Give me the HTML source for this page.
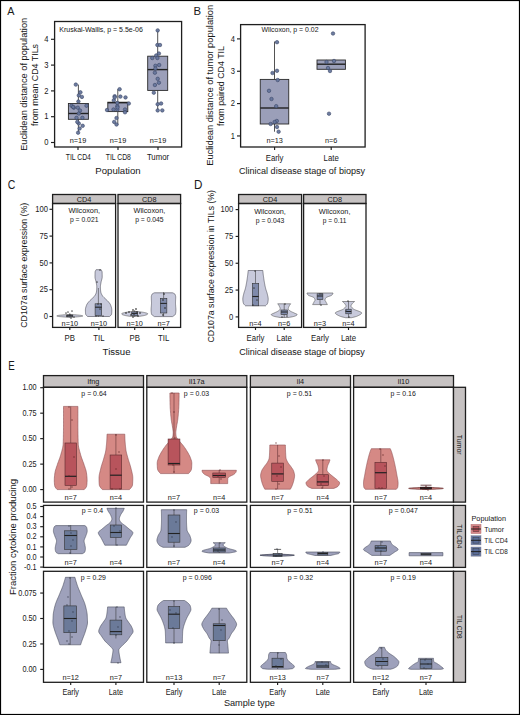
<!DOCTYPE html><html><head><meta charset="utf-8"><style>html,body{margin:0;padding:0;background:#fff;width:520px;height:715px;overflow:hidden}svg{display:block}</style></head><body><svg width="520" height="715" viewBox="0 0 520 715" font-family='"Liberation Sans", sans-serif'>
<rect x="0" y="0" width="520" height="715" fill="#fff"/>
<text x="10.8" y="15.0" font-size="11.8" text-anchor="middle" fill="#1a1a1a" stroke="#1a1a1a" stroke-width="0.03" textLength="7.2" lengthAdjust="spacingAndGlyphs">A</text>
<text x="197.2" y="15.0" font-size="11.8" text-anchor="middle" fill="#1a1a1a" stroke="#1a1a1a" stroke-width="0.03" textLength="7.6" lengthAdjust="spacingAndGlyphs">B</text>
<text x="11.5" y="188.9" font-size="12.6" text-anchor="middle" fill="#1a1a1a" stroke="#1a1a1a" stroke-width="0.03" textLength="7.6" lengthAdjust="spacingAndGlyphs">C</text>
<text x="198.2" y="188.9" font-size="12.4" text-anchor="middle" fill="#1a1a1a" stroke="#1a1a1a" stroke-width="0.03" textLength="8.4" lengthAdjust="spacingAndGlyphs">D</text>
<text x="11.5" y="369.9" font-size="12.4" text-anchor="middle" fill="#1a1a1a" stroke="#1a1a1a" stroke-width="0.03" textLength="6.5" lengthAdjust="spacingAndGlyphs">E</text>
<line x1="51" y1="142.5" x2="54.2" y2="142.5" stroke="#1e1e1e" stroke-width="1.15"/>
<text x="48.5" y="145.2" font-size="8.74" text-anchor="end" fill="#1a1a1a" stroke="#1a1a1a" stroke-width="0.03" textLength="4.23" lengthAdjust="spacingAndGlyphs">0</text>
<line x1="51" y1="116.7" x2="54.2" y2="116.7" stroke="#1e1e1e" stroke-width="1.15"/>
<text x="48.5" y="119.4" font-size="8.74" text-anchor="end" fill="#1a1a1a" stroke="#1a1a1a" stroke-width="0.03" textLength="4.23" lengthAdjust="spacingAndGlyphs">1</text>
<line x1="51" y1="90.9" x2="54.2" y2="90.9" stroke="#1e1e1e" stroke-width="1.15"/>
<text x="48.5" y="93.60000000000001" font-size="8.74" text-anchor="end" fill="#1a1a1a" stroke="#1a1a1a" stroke-width="0.03" textLength="4.23" lengthAdjust="spacingAndGlyphs">2</text>
<line x1="51" y1="65.1" x2="54.2" y2="65.1" stroke="#1e1e1e" stroke-width="1.15"/>
<text x="48.5" y="67.8" font-size="8.74" text-anchor="end" fill="#1a1a1a" stroke="#1a1a1a" stroke-width="0.03" textLength="4.23" lengthAdjust="spacingAndGlyphs">3</text>
<line x1="51" y1="39.3" x2="54.2" y2="39.3" stroke="#1e1e1e" stroke-width="1.15"/>
<text x="48.5" y="42.0" font-size="8.74" text-anchor="end" fill="#1a1a1a" stroke="#1a1a1a" stroke-width="0.03" textLength="4.23" lengthAdjust="spacingAndGlyphs">4</text>
<line x1="78.4" y1="84.6" x2="78.4" y2="103.5" stroke="#2a2a2a" stroke-width="0.81"/>
<line x1="78.4" y1="119.3" x2="78.4" y2="132.7" stroke="#2a2a2a" stroke-width="0.81"/>
<rect x="68.4" y="103.5" width="20" height="15.799999999999997" fill="#9b9fb9" stroke="#2a2a2a" stroke-width="0.9"/>
<line x1="68.4" y1="113.5" x2="88.4" y2="113.5" stroke="#222" stroke-width="1.4"/>
<line x1="117.8" y1="89.2" x2="117.8" y2="102.2" stroke="#2a2a2a" stroke-width="0.81"/>
<line x1="117.8" y1="111.6" x2="117.8" y2="125" stroke="#2a2a2a" stroke-width="0.81"/>
<rect x="107.8" y="102.2" width="20" height="9.399999999999991" fill="#9b9fb9" stroke="#2a2a2a" stroke-width="0.9"/>
<line x1="107.8" y1="102.7" x2="127.8" y2="102.7" stroke="#222" stroke-width="1.4"/>
<line x1="157.7" y1="30.4" x2="157.7" y2="56.2" stroke="#2a2a2a" stroke-width="0.81"/>
<line x1="157.7" y1="90.4" x2="157.7" y2="110.4" stroke="#2a2a2a" stroke-width="0.81"/>
<rect x="147.7" y="56.2" width="20" height="34.2" fill="#9b9fb9" stroke="#2a2a2a" stroke-width="0.9"/>
<line x1="147.7" y1="69.6" x2="167.7" y2="69.6" stroke="#222" stroke-width="1.4"/>
<circle cx="75.8" cy="84.6" r="1.75" fill="#66769c" fill-opacity="0.95" stroke="#3a4767" stroke-width="0.6"/>
<circle cx="80.4" cy="92.3" r="1.75" fill="#66769c" fill-opacity="0.95" stroke="#3a4767" stroke-width="0.6"/>
<circle cx="78.8" cy="95.4" r="1.75" fill="#66769c" fill-opacity="0.95" stroke="#3a4767" stroke-width="0.6"/>
<circle cx="81.9" cy="96.9" r="1.75" fill="#66769c" fill-opacity="0.95" stroke="#3a4767" stroke-width="0.6"/>
<circle cx="78.4" cy="101.5" r="1.75" fill="#66769c" fill-opacity="0.95" stroke="#3a4767" stroke-width="0.6"/>
<circle cx="71.6" cy="105.8" r="1.75" fill="#66769c" fill-opacity="0.95" stroke="#3a4767" stroke-width="0.6"/>
<circle cx="73.8" cy="107.7" r="1.75" fill="#66769c" fill-opacity="0.95" stroke="#3a4767" stroke-width="0.6"/>
<circle cx="77.8" cy="107.7" r="1.75" fill="#66769c" fill-opacity="0.95" stroke="#3a4767" stroke-width="0.6"/>
<circle cx="86.5" cy="105.7" r="1.75" fill="#66769c" fill-opacity="0.95" stroke="#3a4767" stroke-width="0.6"/>
<circle cx="78.8" cy="113.5" r="1.75" fill="#66769c" fill-opacity="0.95" stroke="#3a4767" stroke-width="0.6"/>
<circle cx="76.5" cy="117.8" r="1.75" fill="#66769c" fill-opacity="0.95" stroke="#3a4767" stroke-width="0.6"/>
<circle cx="82.4" cy="117.8" r="1.75" fill="#66769c" fill-opacity="0.95" stroke="#3a4767" stroke-width="0.6"/>
<circle cx="78.8" cy="123.5" r="1.75" fill="#66769c" fill-opacity="0.95" stroke="#3a4767" stroke-width="0.6"/>
<circle cx="82.7" cy="125.8" r="1.75" fill="#66769c" fill-opacity="0.95" stroke="#3a4767" stroke-width="0.6"/>
<circle cx="79.6" cy="128.5" r="1.75" fill="#66769c" fill-opacity="0.95" stroke="#3a4767" stroke-width="0.6"/>
<circle cx="78.1" cy="132.7" r="1.75" fill="#66769c" fill-opacity="0.95" stroke="#3a4767" stroke-width="0.6"/>
<circle cx="77.3" cy="121.9" r="1.75" fill="#66769c" fill-opacity="0.95" stroke="#3a4767" stroke-width="0.6"/>
<circle cx="73.2" cy="107" r="1.75" fill="#66769c" fill-opacity="0.95" stroke="#3a4767" stroke-width="0.6"/>
<circle cx="80" cy="110.5" r="1.75" fill="#66769c" fill-opacity="0.95" stroke="#3a4767" stroke-width="0.6"/>
<circle cx="119.6" cy="89.2" r="1.75" fill="#66769c" fill-opacity="0.95" stroke="#3a4767" stroke-width="0.6"/>
<circle cx="114.7" cy="96.2" r="1.75" fill="#66769c" fill-opacity="0.95" stroke="#3a4767" stroke-width="0.6"/>
<circle cx="120.4" cy="96.6" r="1.75" fill="#66769c" fill-opacity="0.95" stroke="#3a4767" stroke-width="0.6"/>
<circle cx="125.5" cy="97.4" r="1.75" fill="#66769c" fill-opacity="0.95" stroke="#3a4767" stroke-width="0.6"/>
<circle cx="113.8" cy="100.3" r="1.75" fill="#66769c" fill-opacity="0.95" stroke="#3a4767" stroke-width="0.6"/>
<circle cx="117.3" cy="103" r="1.75" fill="#66769c" fill-opacity="0.95" stroke="#3a4767" stroke-width="0.6"/>
<circle cx="128.8" cy="103.5" r="1.75" fill="#66769c" fill-opacity="0.95" stroke="#3a4767" stroke-width="0.6"/>
<circle cx="107" cy="110" r="1.75" fill="#66769c" fill-opacity="0.95" stroke="#3a4767" stroke-width="0.6"/>
<circle cx="113.5" cy="109.5" r="1.75" fill="#66769c" fill-opacity="0.95" stroke="#3a4767" stroke-width="0.6"/>
<circle cx="117.3" cy="109.5" r="1.75" fill="#66769c" fill-opacity="0.95" stroke="#3a4767" stroke-width="0.6"/>
<circle cx="125" cy="109.5" r="1.75" fill="#66769c" fill-opacity="0.95" stroke="#3a4767" stroke-width="0.6"/>
<circle cx="125" cy="112.3" r="1.75" fill="#66769c" fill-opacity="0.95" stroke="#3a4767" stroke-width="0.6"/>
<circle cx="117.3" cy="106.2" r="1.75" fill="#66769c" fill-opacity="0.95" stroke="#3a4767" stroke-width="0.6"/>
<circle cx="116.5" cy="118" r="1.75" fill="#66769c" fill-opacity="0.95" stroke="#3a4767" stroke-width="0.6"/>
<circle cx="114.2" cy="121.9" r="1.75" fill="#66769c" fill-opacity="0.95" stroke="#3a4767" stroke-width="0.6"/>
<circle cx="116.5" cy="124.5" r="1.75" fill="#66769c" fill-opacity="0.95" stroke="#3a4767" stroke-width="0.6"/>
<circle cx="117.5" cy="107.5" r="1.75" fill="#66769c" fill-opacity="0.95" stroke="#3a4767" stroke-width="0.6"/>
<circle cx="114.7" cy="97.3" r="1.75" fill="#66769c" fill-opacity="0.95" stroke="#3a4767" stroke-width="0.6"/>
<circle cx="157.7" cy="30.4" r="1.75" fill="#66769c" fill-opacity="0.95" stroke="#3a4767" stroke-width="0.6"/>
<circle cx="157.4" cy="45" r="1.75" fill="#66769c" fill-opacity="0.95" stroke="#3a4767" stroke-width="0.6"/>
<circle cx="160" cy="45" r="1.75" fill="#66769c" fill-opacity="0.95" stroke="#3a4767" stroke-width="0.6"/>
<circle cx="158.9" cy="53.5" r="1.75" fill="#66769c" fill-opacity="0.95" stroke="#3a4767" stroke-width="0.6"/>
<circle cx="156.2" cy="55.5" r="1.75" fill="#66769c" fill-opacity="0.95" stroke="#3a4767" stroke-width="0.6"/>
<circle cx="152.3" cy="58" r="1.75" fill="#66769c" fill-opacity="0.95" stroke="#3a4767" stroke-width="0.6"/>
<circle cx="157.4" cy="58" r="1.75" fill="#66769c" fill-opacity="0.95" stroke="#3a4767" stroke-width="0.6"/>
<circle cx="155.4" cy="65.8" r="1.75" fill="#66769c" fill-opacity="0.95" stroke="#3a4767" stroke-width="0.6"/>
<circle cx="159.2" cy="65" r="1.75" fill="#66769c" fill-opacity="0.95" stroke="#3a4767" stroke-width="0.6"/>
<circle cx="154.9" cy="72.7" r="1.75" fill="#66769c" fill-opacity="0.95" stroke="#3a4767" stroke-width="0.6"/>
<circle cx="157.7" cy="78.8" r="1.75" fill="#66769c" fill-opacity="0.95" stroke="#3a4767" stroke-width="0.6"/>
<circle cx="158.9" cy="82.7" r="1.75" fill="#66769c" fill-opacity="0.95" stroke="#3a4767" stroke-width="0.6"/>
<circle cx="154.9" cy="85" r="1.75" fill="#66769c" fill-opacity="0.95" stroke="#3a4767" stroke-width="0.6"/>
<circle cx="153.8" cy="92.7" r="1.75" fill="#66769c" fill-opacity="0.95" stroke="#3a4767" stroke-width="0.6"/>
<circle cx="157.7" cy="104.2" r="1.75" fill="#66769c" fill-opacity="0.95" stroke="#3a4767" stroke-width="0.6"/>
<circle cx="161.1" cy="103.5" r="1.75" fill="#66769c" fill-opacity="0.95" stroke="#3a4767" stroke-width="0.6"/>
<circle cx="157.7" cy="110.4" r="1.75" fill="#66769c" fill-opacity="0.95" stroke="#3a4767" stroke-width="0.6"/>
<circle cx="162.3" cy="110.4" r="1.75" fill="#66769c" fill-opacity="0.95" stroke="#3a4767" stroke-width="0.6"/>
<circle cx="155.4" cy="68.5" r="1.75" fill="#66769c" fill-opacity="0.95" stroke="#3a4767" stroke-width="0.6"/>
<rect x="54.6" y="21.5" width="127" height="125.5" fill="none" stroke="#1e1e1e" stroke-width="1.3"/>
<line x1="78" y1="147.1" x2="78" y2="150" stroke="#1e1e1e" stroke-width="1.15"/>
<text x="78" y="142.6" font-size="8.03" text-anchor="middle" fill="#1a1a1a" stroke="#1a1a1a" stroke-width="0.03" textLength="16.44" lengthAdjust="spacingAndGlyphs">n=19</text>
<line x1="118" y1="147.1" x2="118" y2="150" stroke="#1e1e1e" stroke-width="1.15"/>
<text x="118" y="142.6" font-size="8.03" text-anchor="middle" fill="#1a1a1a" stroke="#1a1a1a" stroke-width="0.03" textLength="16.44" lengthAdjust="spacingAndGlyphs">n=19</text>
<line x1="158" y1="147.1" x2="158" y2="150" stroke="#1e1e1e" stroke-width="1.15"/>
<text x="158" y="142.6" font-size="8.03" text-anchor="middle" fill="#1a1a1a" stroke="#1a1a1a" stroke-width="0.03" textLength="16.44" lengthAdjust="spacingAndGlyphs">n=19</text>
<text x="78.3" y="159.9" font-size="8.97" text-anchor="middle" fill="#1a1a1a" stroke="#1a1a1a" stroke-width="0.03" textLength="25" lengthAdjust="spacingAndGlyphs">TIL CD4</text>
<text x="118.3" y="159.9" font-size="8.97" text-anchor="middle" fill="#1a1a1a" stroke="#1a1a1a" stroke-width="0.03" textLength="25" lengthAdjust="spacingAndGlyphs">TIL CD8</text>
<text x="158" y="159.9" font-size="8.97" text-anchor="middle" fill="#1a1a1a" stroke="#1a1a1a" stroke-width="0.03" textLength="22.25" lengthAdjust="spacingAndGlyphs">Tumor</text>
<text x="118" y="173.8" font-size="9.6" text-anchor="middle" fill="#1a1a1a" stroke="#1a1a1a" stroke-width="0.03" textLength="45.37" lengthAdjust="spacingAndGlyphs">Population</text>
<text x="59.3" y="32.1" font-size="7.45" text-anchor="start" fill="#1a1a1a" stroke="#1a1a1a" stroke-width="0.03" textLength="83.5" lengthAdjust="spacingAndGlyphs">Kruskal-Wallis, p = 5.5e-06</text>
<text x="27.2" y="84.3" font-size="9.6" text-anchor="middle" fill="#1a1a1a" stroke="#1a1a1a" stroke-width="0.03" textLength="133" lengthAdjust="spacingAndGlyphs" transform="rotate(-90 27.2 84.3)">Euclidean distance of population</text>
<text x="37.9" y="85" font-size="9.6" text-anchor="middle" fill="#1a1a1a" stroke="#1a1a1a" stroke-width="0.03" textLength="82" lengthAdjust="spacingAndGlyphs" transform="rotate(-90 37.9 85)">from mean CD4 TILs</text>
<line x1="237" y1="135.95000000000002" x2="240.2" y2="135.95000000000002" stroke="#1e1e1e" stroke-width="1.15"/>
<text x="235" y="138.65" font-size="8.74" text-anchor="end" fill="#1a1a1a" stroke="#1a1a1a" stroke-width="0.03" textLength="4.23" lengthAdjust="spacingAndGlyphs">1</text>
<line x1="237" y1="103.60000000000001" x2="240.2" y2="103.60000000000001" stroke="#1e1e1e" stroke-width="1.15"/>
<text x="235" y="106.30000000000001" font-size="8.74" text-anchor="end" fill="#1a1a1a" stroke="#1a1a1a" stroke-width="0.03" textLength="4.23" lengthAdjust="spacingAndGlyphs">2</text>
<line x1="237" y1="71.25" x2="240.2" y2="71.25" stroke="#1e1e1e" stroke-width="1.15"/>
<text x="235" y="73.95" font-size="8.74" text-anchor="end" fill="#1a1a1a" stroke="#1a1a1a" stroke-width="0.03" textLength="4.23" lengthAdjust="spacingAndGlyphs">3</text>
<line x1="237" y1="38.900000000000006" x2="240.2" y2="38.900000000000006" stroke="#1e1e1e" stroke-width="1.15"/>
<text x="235" y="41.60000000000001" font-size="8.74" text-anchor="end" fill="#1a1a1a" stroke="#1a1a1a" stroke-width="0.03" textLength="4.23" lengthAdjust="spacingAndGlyphs">4</text>
<line x1="274.5" y1="41.5" x2="274.5" y2="79.4" stroke="#2a2a2a" stroke-width="0.81"/>
<line x1="274.5" y1="124" x2="274.5" y2="131.7" stroke="#2a2a2a" stroke-width="0.81"/>
<rect x="260.25" y="79.4" width="28.5" height="44.599999999999994" fill="#9b9fb9" stroke="#2a2a2a" stroke-width="0.9"/>
<line x1="260.25" y1="108" x2="288.75" y2="108" stroke="#222" stroke-width="1.4"/>
<rect x="317.0" y="60" width="28.4" height="9.299999999999997" fill="#9b9fb9" stroke="#2a2a2a" stroke-width="0.9"/>
<line x1="317.0" y1="64.2" x2="345.4" y2="64.2" stroke="#222" stroke-width="1.4"/>
<circle cx="277" cy="42.2" r="1.75" fill="#66769c" fill-opacity="0.95" stroke="#3a4767" stroke-width="0.6"/>
<circle cx="272.5" cy="73" r="1.75" fill="#66769c" fill-opacity="0.95" stroke="#3a4767" stroke-width="0.6"/>
<circle cx="277" cy="70.8" r="1.75" fill="#66769c" fill-opacity="0.95" stroke="#3a4767" stroke-width="0.6"/>
<circle cx="277.7" cy="80" r="1.75" fill="#66769c" fill-opacity="0.95" stroke="#3a4767" stroke-width="0.6"/>
<circle cx="269" cy="90.8" r="1.75" fill="#66769c" fill-opacity="0.95" stroke="#3a4767" stroke-width="0.6"/>
<circle cx="271.5" cy="99" r="1.75" fill="#66769c" fill-opacity="0.95" stroke="#3a4767" stroke-width="0.6"/>
<circle cx="276.2" cy="106.2" r="1.75" fill="#66769c" fill-opacity="0.95" stroke="#3a4767" stroke-width="0.6"/>
<circle cx="276.8" cy="121" r="1.75" fill="#66769c" fill-opacity="0.95" stroke="#3a4767" stroke-width="0.6"/>
<circle cx="274.6" cy="122" r="1.75" fill="#66769c" fill-opacity="0.95" stroke="#3a4767" stroke-width="0.6"/>
<circle cx="270.6" cy="124" r="1.75" fill="#66769c" fill-opacity="0.95" stroke="#3a4767" stroke-width="0.6"/>
<circle cx="277" cy="127" r="1.75" fill="#66769c" fill-opacity="0.95" stroke="#3a4767" stroke-width="0.6"/>
<circle cx="278.6" cy="131.7" r="1.75" fill="#66769c" fill-opacity="0.95" stroke="#3a4767" stroke-width="0.6"/>
<circle cx="333" cy="33.5" r="1.75" fill="#66769c" fill-opacity="0.95" stroke="#3a4767" stroke-width="0.6"/>
<circle cx="326.5" cy="62" r="1.75" fill="#66769c" fill-opacity="0.95" stroke="#3a4767" stroke-width="0.6"/>
<circle cx="334" cy="61" r="1.75" fill="#66769c" fill-opacity="0.95" stroke="#3a4767" stroke-width="0.6"/>
<circle cx="328" cy="68" r="1.75" fill="#66769c" fill-opacity="0.95" stroke="#3a4767" stroke-width="0.6"/>
<circle cx="330" cy="71" r="1.75" fill="#66769c" fill-opacity="0.95" stroke="#3a4767" stroke-width="0.6"/>
<circle cx="329" cy="113.7" r="1.75" fill="#66769c" fill-opacity="0.95" stroke="#3a4767" stroke-width="0.6"/>
<rect x="240.6" y="24.6" width="124.5" height="122.4" fill="none" stroke="#1e1e1e" stroke-width="1.3"/>
<line x1="274.6" y1="147" x2="274.6" y2="150" stroke="#1e1e1e" stroke-width="1.15"/>
<text x="274.6" y="143.1" font-size="8.03" text-anchor="middle" fill="#1a1a1a" stroke="#1a1a1a" stroke-width="0.03" textLength="16.44" lengthAdjust="spacingAndGlyphs">n=13</text>
<line x1="331.2" y1="147" x2="331.2" y2="150" stroke="#1e1e1e" stroke-width="1.15"/>
<text x="331.2" y="143.1" font-size="8.03" text-anchor="middle" fill="#1a1a1a" stroke="#1a1a1a" stroke-width="0.03" textLength="12.38" lengthAdjust="spacingAndGlyphs">n=6</text>
<text x="274.6" y="160.5" font-size="8.97" text-anchor="middle" fill="#1a1a1a" stroke="#1a1a1a" stroke-width="0.03" textLength="17.77" lengthAdjust="spacingAndGlyphs">Early</text>
<text x="331.2" y="160.5" font-size="8.97" text-anchor="middle" fill="#1a1a1a" stroke="#1a1a1a" stroke-width="0.03" textLength="15.18" lengthAdjust="spacingAndGlyphs">Late</text>
<text x="302" y="174" font-size="9.6" text-anchor="middle" fill="#1a1a1a" stroke="#1a1a1a" stroke-width="0.03" textLength="126" lengthAdjust="spacingAndGlyphs">Clinical disease stage of biopsy</text>
<text x="290" y="32.3" font-size="7.67" text-anchor="middle" fill="#1a1a1a" stroke="#1a1a1a" stroke-width="0.03" textLength="57" lengthAdjust="spacingAndGlyphs">Wilcoxon, p = 0.02</text>
<text x="213.2" y="85.3" font-size="9.6" text-anchor="middle" fill="#1a1a1a" stroke="#1a1a1a" stroke-width="0.03" textLength="161" lengthAdjust="spacingAndGlyphs" transform="rotate(-90 213.2 85.3)">Euclidean distance of tumor population</text>
<text x="224.2" y="86" font-size="9.6" text-anchor="middle" fill="#1a1a1a" stroke="#1a1a1a" stroke-width="0.03" textLength="80" lengthAdjust="spacingAndGlyphs" transform="rotate(-90 224.2 86)">from paired CD4 TIL</text>
<line x1="49.5" y1="316.5" x2="52.6" y2="316.5" stroke="#1e1e1e" stroke-width="1.15"/>
<text x="47.9" y="319.2" font-size="8.74" text-anchor="end" fill="#1a1a1a" stroke="#1a1a1a" stroke-width="0.03" textLength="4.23" lengthAdjust="spacingAndGlyphs">0</text>
<line x1="49.5" y1="289.7" x2="52.6" y2="289.7" stroke="#1e1e1e" stroke-width="1.15"/>
<text x="47.9" y="292.4" font-size="8.74" text-anchor="end" fill="#1a1a1a" stroke="#1a1a1a" stroke-width="0.03" textLength="8.45" lengthAdjust="spacingAndGlyphs">25</text>
<line x1="49.5" y1="262.9" x2="52.6" y2="262.9" stroke="#1e1e1e" stroke-width="1.15"/>
<text x="47.9" y="265.59999999999997" font-size="8.74" text-anchor="end" fill="#1a1a1a" stroke="#1a1a1a" stroke-width="0.03" textLength="8.45" lengthAdjust="spacingAndGlyphs">50</text>
<line x1="49.5" y1="236.1" x2="52.6" y2="236.1" stroke="#1e1e1e" stroke-width="1.15"/>
<text x="47.9" y="238.79999999999998" font-size="8.74" text-anchor="end" fill="#1a1a1a" stroke="#1a1a1a" stroke-width="0.03" textLength="8.45" lengthAdjust="spacingAndGlyphs">75</text>
<line x1="49.5" y1="209.3" x2="52.6" y2="209.3" stroke="#1e1e1e" stroke-width="1.15"/>
<text x="47.9" y="212.0" font-size="8.74" text-anchor="end" fill="#1a1a1a" stroke="#1a1a1a" stroke-width="0.03" textLength="12.68" lengthAdjust="spacingAndGlyphs">100</text>
<polygon points="72.30,314.60 73.00,314.64 73.68,314.69 74.32,314.73 74.95,314.78 75.54,314.82 76.11,314.86 76.65,314.91 77.17,314.95 77.66,315.00 78.13,315.04 78.57,315.08 78.99,315.13 79.38,315.17 79.76,315.22 80.10,315.26 80.43,315.31 80.73,315.35 81.01,315.39 81.27,315.44 81.51,315.48 81.73,315.53 81.92,315.57 82.10,315.61 82.25,315.66 82.39,315.70 82.50,315.75 82.60,315.79 82.67,315.83 82.73,315.88 82.77,315.92 82.79,315.97 82.80,316.01 82.78,316.05 82.72,316.10 82.63,316.14 82.52,316.19 82.37,316.23 82.19,316.27 81.98,316.32 81.75,316.36 81.48,316.41 81.19,316.45 80.86,316.49 80.52,316.54 80.14,316.58 79.74,316.63 79.31,316.67 78.85,316.72 78.38,316.76 77.87,316.80 77.34,316.85 76.79,316.89 76.22,316.94 75.62,316.98 75.00,317.02 74.36,317.07 73.69,317.11 73.01,317.16 72.30,317.20 67.30,317.20 66.59,317.16 65.91,317.11 65.24,317.07 64.60,317.02 63.98,316.98 63.38,316.94 62.81,316.89 62.26,316.85 61.73,316.80 61.22,316.76 60.75,316.72 60.29,316.67 59.86,316.63 59.46,316.58 59.08,316.54 58.74,316.49 58.41,316.45 58.12,316.41 57.85,316.36 57.62,316.32 57.41,316.27 57.23,316.23 57.08,316.19 56.97,316.14 56.88,316.10 56.82,316.05 56.80,316.01 56.81,315.97 56.83,315.92 56.87,315.88 56.93,315.83 57.00,315.79 57.10,315.75 57.21,315.70 57.35,315.66 57.50,315.61 57.68,315.57 57.87,315.53 58.09,315.48 58.33,315.44 58.59,315.39 58.87,315.35 59.17,315.31 59.50,315.26 59.84,315.22 60.22,315.17 60.61,315.13 61.03,315.08 61.47,315.04 61.94,315.00 62.43,314.95 62.95,314.91 63.49,314.86 64.06,314.82 64.65,314.78 65.28,314.73 65.92,314.69 66.60,314.64 67.30,314.60" fill="#c8cadc" stroke="#555" stroke-width="0.6" stroke-linejoin="round"/>
<polygon points="101.10,269.70 101.56,270.49 101.94,271.29 102.10,272.08 102.13,272.87 102.16,273.67 102.18,274.46 102.19,275.25 102.20,276.05 102.20,276.84 102.16,277.63 102.03,278.43 101.84,279.22 101.61,280.01 101.38,280.81 101.18,281.60 101.03,282.39 100.88,283.18 100.73,283.98 100.60,284.77 100.49,285.56 100.42,286.36 100.40,287.15 100.42,287.94 100.46,288.74 100.52,289.53 100.59,290.32 100.68,291.12 100.79,291.91 100.95,292.70 101.23,293.50 101.60,294.29 102.04,295.08 102.52,295.88 103.12,296.67 103.92,297.46 104.80,298.26 105.65,299.05 106.48,299.84 107.32,300.64 108.10,301.43 108.78,302.22 109.40,303.02 109.97,303.81 110.43,304.60 110.74,305.39 111.02,306.19 111.28,306.98 111.50,307.77 111.67,308.57 111.77,309.36 111.80,310.15 111.79,310.95 111.76,311.74 111.72,312.53 111.66,313.33 111.58,314.12 111.19,314.91 110.46,315.71 109.60,316.50 87.60,316.50 86.74,315.71 86.01,314.91 85.62,314.12 85.54,313.33 85.48,312.53 85.44,311.74 85.41,310.95 85.40,310.15 85.43,309.36 85.53,308.57 85.70,307.77 85.92,306.98 86.18,306.19 86.46,305.39 86.77,304.60 87.23,303.81 87.80,303.02 88.42,302.22 89.10,301.43 89.88,300.64 90.72,299.84 91.55,299.05 92.40,298.26 93.28,297.46 94.08,296.67 94.68,295.88 95.16,295.08 95.60,294.29 95.97,293.50 96.25,292.70 96.41,291.91 96.52,291.12 96.61,290.32 96.68,289.53 96.74,288.74 96.78,287.94 96.80,287.15 96.78,286.36 96.71,285.56 96.60,284.77 96.47,283.98 96.32,283.18 96.17,282.39 96.02,281.60 95.82,280.81 95.59,280.01 95.36,279.22 95.17,278.43 95.04,277.63 95.00,276.84 95.00,276.05 95.01,275.25 95.02,274.46 95.04,273.67 95.07,272.87 95.10,272.08 95.26,271.29 95.64,270.49 96.10,269.70" fill="#c8cadc" stroke="#4a4a55" stroke-width="0.6" stroke-linejoin="round"/>
<line x1="69.8" y1="313" x2="69.8" y2="315" stroke="#333" stroke-width="0.54"/>
<line x1="69.8" y1="316.8" x2="69.8" y2="317.5" stroke="#333" stroke-width="0.54"/>
<rect x="66.8" y="315" width="6" height="1.8000000000000114" fill="#7f8aab" stroke="#333" stroke-width="0.6"/>
<line x1="66.8" y1="315.8" x2="72.8" y2="315.8" stroke="#222" stroke-width="0.9"/>
<line x1="98.4" y1="288" x2="98.4" y2="303.8" stroke="#333" stroke-width="0.54"/>
<line x1="98.4" y1="315.5" x2="98.4" y2="317" stroke="#333" stroke-width="0.54"/>
<rect x="95.10000000000001" y="303.8" width="6.6" height="11.699999999999989" fill="#7f8aab" stroke="#333" stroke-width="0.6"/>
<line x1="95.10000000000001" y1="307.2" x2="101.7" y2="307.2" stroke="#222" stroke-width="1.1"/>
<circle cx="66" cy="313" r="0.85" fill="#333" fill-opacity="0.8"/>
<circle cx="68" cy="312" r="0.85" fill="#333" fill-opacity="0.8"/>
<circle cx="72" cy="311" r="0.85" fill="#333" fill-opacity="0.8"/>
<circle cx="70" cy="315" r="0.85" fill="#333" fill-opacity="0.8"/>
<circle cx="74" cy="317" r="0.85" fill="#333" fill-opacity="0.8"/>
<circle cx="71" cy="318" r="0.85" fill="#333" fill-opacity="0.8"/>
<circle cx="67" cy="316" r="0.85" fill="#333" fill-opacity="0.8"/>
<circle cx="97" cy="282" r="0.85" fill="#333" fill-opacity="0.8"/>
<circle cx="100" cy="270" r="0.85" fill="#333" fill-opacity="0.8"/>
<circle cx="96" cy="316" r="0.85" fill="#333" fill-opacity="0.8"/>
<circle cx="103" cy="316" r="0.85" fill="#333" fill-opacity="0.8"/>
<circle cx="98" cy="304" r="0.85" fill="#333" fill-opacity="0.8"/>
<circle cx="101" cy="304" r="0.85" fill="#333" fill-opacity="0.8"/>
<circle cx="100" cy="309" r="0.85" fill="#333" fill-opacity="0.8"/>
<polygon points="137.70,311.50 138.34,311.58 138.96,311.66 139.57,311.74 140.15,311.83 140.72,311.91 141.27,311.99 141.80,312.07 142.31,312.15 142.80,312.23 143.27,312.31 143.72,312.39 144.15,312.48 144.56,312.56 144.94,312.64 145.30,312.72 145.64,312.80 145.95,312.88 146.24,312.96 146.50,313.05 146.74,313.13 146.96,313.21 147.14,313.29 147.30,313.37 147.44,313.45 147.55,313.53 147.63,313.62 147.68,313.70 147.70,313.78 147.70,313.86 147.68,313.94 147.65,314.02 147.61,314.10 147.55,314.18 147.47,314.27 147.38,314.35 147.28,314.43 147.16,314.51 147.02,314.59 146.87,314.67 146.70,314.75 146.51,314.84 146.30,314.92 146.08,315.00 145.84,315.08 145.58,315.16 145.29,315.24 144.99,315.32 144.67,315.41 144.33,315.49 143.97,315.57 143.58,315.65 143.18,315.73 142.75,315.81 142.30,315.89 141.83,315.97 141.33,316.06 140.81,316.14 140.27,316.22 139.70,316.30 129.70,316.30 129.13,316.22 128.59,316.14 128.07,316.06 127.57,315.97 127.10,315.89 126.65,315.81 126.22,315.73 125.82,315.65 125.43,315.57 125.07,315.49 124.73,315.41 124.41,315.32 124.11,315.24 123.82,315.16 123.56,315.08 123.32,315.00 123.10,314.92 122.89,314.84 122.70,314.75 122.53,314.67 122.38,314.59 122.24,314.51 122.12,314.43 122.02,314.35 121.93,314.27 121.85,314.18 121.79,314.10 121.75,314.02 121.72,313.94 121.70,313.86 121.70,313.78 121.72,313.70 121.77,313.62 121.85,313.53 121.96,313.45 122.10,313.37 122.26,313.29 122.44,313.21 122.66,313.13 122.90,313.05 123.16,312.96 123.45,312.88 123.76,312.80 124.10,312.72 124.46,312.64 124.84,312.56 125.25,312.48 125.68,312.39 126.13,312.31 126.60,312.23 127.09,312.15 127.60,312.07 128.13,311.99 128.68,311.91 129.25,311.83 129.83,311.74 130.44,311.66 131.06,311.58 131.70,311.50" fill="#c8cadc" stroke="#555" stroke-width="0.6" stroke-linejoin="round"/>
<polygon points="172.50,292.80 173.48,293.20 174.32,293.61 174.81,294.01 175.02,294.41 175.21,294.82 175.37,295.22 175.50,295.62 175.60,296.03 175.67,296.43 175.70,296.83 175.70,297.24 175.69,297.64 175.68,298.04 175.67,298.45 175.65,298.85 175.64,299.25 175.62,299.66 175.60,300.06 175.58,300.46 175.56,300.87 175.54,301.27 175.52,301.67 175.51,302.08 175.50,302.48 175.50,302.88 175.50,303.29 175.51,303.69 175.53,304.09 175.55,304.50 175.57,304.90 175.60,305.31 175.63,305.71 175.67,306.11 175.70,306.52 175.74,306.92 175.77,307.32 175.80,307.73 175.83,308.13 175.85,308.53 175.88,308.94 175.89,309.34 175.90,309.74 175.90,310.15 175.89,310.55 175.88,310.95 175.85,311.36 175.82,311.76 175.78,312.16 175.73,312.57 175.68,312.97 175.61,313.37 175.54,313.78 175.45,314.18 175.21,314.58 174.82,314.99 174.33,315.39 173.76,315.79 173.14,316.20 172.50,316.60 154.50,316.60 153.86,316.20 153.24,315.79 152.67,315.39 152.18,314.99 151.79,314.58 151.55,314.18 151.46,313.78 151.39,313.37 151.32,312.97 151.27,312.57 151.22,312.16 151.18,311.76 151.15,311.36 151.12,310.95 151.11,310.55 151.10,310.15 151.10,309.74 151.11,309.34 151.12,308.94 151.15,308.53 151.17,308.13 151.20,307.73 151.23,307.32 151.26,306.92 151.30,306.52 151.33,306.11 151.37,305.71 151.40,305.31 151.43,304.90 151.45,304.50 151.47,304.09 151.49,303.69 151.50,303.29 151.50,302.88 151.50,302.48 151.49,302.08 151.48,301.67 151.46,301.27 151.44,300.87 151.42,300.46 151.40,300.06 151.38,299.66 151.36,299.25 151.35,298.85 151.33,298.45 151.32,298.04 151.31,297.64 151.30,297.24 151.30,296.83 151.33,296.43 151.40,296.03 151.50,295.62 151.63,295.22 151.79,294.82 151.98,294.41 152.19,294.01 152.68,293.61 153.52,293.20 154.50,292.80" fill="#c8cadc" stroke="#4a4a55" stroke-width="0.6" stroke-linejoin="round"/>
<line x1="134.7" y1="310" x2="134.7" y2="312" stroke="#333" stroke-width="0.54"/>
<line x1="134.7" y1="315.5" x2="134.7" y2="317" stroke="#333" stroke-width="0.54"/>
<rect x="131.7" y="312" width="6" height="3.5" fill="#7f8aab" stroke="#333" stroke-width="0.6"/>
<line x1="131.7" y1="313.5" x2="137.7" y2="313.5" stroke="#222" stroke-width="0.9"/>
<line x1="163.6" y1="292" x2="163.6" y2="298.3" stroke="#333" stroke-width="0.54"/>
<line x1="163.6" y1="313" x2="163.6" y2="316.4" stroke="#333" stroke-width="0.54"/>
<rect x="160.35" y="298.3" width="6.5" height="14.699999999999989" fill="#7f8aab" stroke="#333" stroke-width="0.6"/>
<line x1="160.35" y1="303.4" x2="166.85" y2="303.4" stroke="#222" stroke-width="1.0"/>
<circle cx="133" cy="310" r="0.9" fill="#333" fill-opacity="0.8"/>
<circle cx="136" cy="309" r="0.9" fill="#333" fill-opacity="0.8"/>
<circle cx="137" cy="312" r="0.9" fill="#333" fill-opacity="0.8"/>
<circle cx="134" cy="314" r="0.9" fill="#333" fill-opacity="0.8"/>
<circle cx="131" cy="315" r="0.9" fill="#333" fill-opacity="0.8"/>
<circle cx="140" cy="313" r="0.9" fill="#333" fill-opacity="0.8"/>
<circle cx="138" cy="316" r="0.9" fill="#333" fill-opacity="0.8"/>
<circle cx="133" cy="317" r="0.9" fill="#333" fill-opacity="0.8"/>
<circle cx="129" cy="312" r="0.9" fill="#333" fill-opacity="0.8"/>
<circle cx="126" cy="313" r="0.9" fill="#333" fill-opacity="0.8"/>
<circle cx="164" cy="294" r="0.9" fill="#333" fill-opacity="0.8"/>
<circle cx="163" cy="300" r="0.9" fill="#333" fill-opacity="0.8"/>
<circle cx="165" cy="308" r="0.9" fill="#333" fill-opacity="0.8"/>
<circle cx="163" cy="315" r="0.9" fill="#333" fill-opacity="0.8"/>
<rect x="52.6" y="194.5" width="62.99999999999999" height="9.0" fill="#c6c2c2" stroke="#1e1e1e" stroke-width="1.3"/>
<text x="84.1" y="201.5" font-size="7.3" text-anchor="middle" fill="#1a1a1a" stroke="#1a1a1a" stroke-width="0.03" textLength="14.6" lengthAdjust="spacingAndGlyphs">CD4</text>
<rect x="118.0" y="194.5" width="62.599999999999994" height="9.0" fill="#c6c2c2" stroke="#1e1e1e" stroke-width="1.3"/>
<text x="149.3" y="201.5" font-size="7.3" text-anchor="middle" fill="#1a1a1a" stroke="#1a1a1a" stroke-width="0.03" textLength="14.6" lengthAdjust="spacingAndGlyphs">CD8</text>
<rect x="52.6" y="203.5" width="63" height="123.9" fill="none" stroke="#1e1e1e" stroke-width="1.3"/>
<rect x="118.0" y="203.5" width="62.6" height="123.9" fill="none" stroke="#1e1e1e" stroke-width="1.3"/>
<text x="84.2" y="213.1" font-size="7.67" text-anchor="middle" fill="#1a1a1a" stroke="#1a1a1a" stroke-width="0.03" textLength="31.64" lengthAdjust="spacingAndGlyphs">Wilcoxon,</text>
<text x="84.2" y="222.2" font-size="7.67" text-anchor="middle" fill="#1a1a1a" stroke="#1a1a1a" stroke-width="0.03" textLength="28.5" lengthAdjust="spacingAndGlyphs">p = 0.021</text>
<text x="149.4" y="213.1" font-size="7.67" text-anchor="middle" fill="#1a1a1a" stroke="#1a1a1a" stroke-width="0.03" textLength="31.64" lengthAdjust="spacingAndGlyphs">Wilcoxon,</text>
<text x="149.4" y="222.2" font-size="7.67" text-anchor="middle" fill="#1a1a1a" stroke="#1a1a1a" stroke-width="0.03" textLength="28.5" lengthAdjust="spacingAndGlyphs">p = 0.045</text>
<line x1="69.8" y1="327.3" x2="69.8" y2="330" stroke="#1e1e1e" stroke-width="1.15"/>
<text x="69.8" y="326" font-size="7.88" text-anchor="middle" fill="#1a1a1a" stroke="#1a1a1a" stroke-width="0.03" textLength="16.44" lengthAdjust="spacingAndGlyphs">n=10</text>
<line x1="98.9" y1="327.3" x2="98.9" y2="330" stroke="#1e1e1e" stroke-width="1.15"/>
<text x="98.9" y="326" font-size="7.88" text-anchor="middle" fill="#1a1a1a" stroke="#1a1a1a" stroke-width="0.03" textLength="16.44" lengthAdjust="spacingAndGlyphs">n=10</text>
<line x1="134.7" y1="327.3" x2="134.7" y2="330" stroke="#1e1e1e" stroke-width="1.15"/>
<text x="134.7" y="326" font-size="7.88" text-anchor="middle" fill="#1a1a1a" stroke="#1a1a1a" stroke-width="0.03" textLength="16.44" lengthAdjust="spacingAndGlyphs">n=10</text>
<line x1="163.6" y1="327.3" x2="163.6" y2="330" stroke="#1e1e1e" stroke-width="1.15"/>
<text x="163.6" y="326" font-size="7.88" text-anchor="middle" fill="#1a1a1a" stroke="#1a1a1a" stroke-width="0.03" textLength="12.38" lengthAdjust="spacingAndGlyphs">n=7</text>
<text x="69.8" y="340.5" font-size="8.97" text-anchor="middle" fill="#1a1a1a" stroke="#1a1a1a" stroke-width="0.03" textLength="10.41" lengthAdjust="spacingAndGlyphs">PB</text>
<text x="98.9" y="340.5" font-size="8.97" text-anchor="middle" fill="#1a1a1a" stroke="#1a1a1a" stroke-width="0.03" textLength="11.27" lengthAdjust="spacingAndGlyphs">TIL</text>
<text x="134.7" y="340.5" font-size="8.97" text-anchor="middle" fill="#1a1a1a" stroke="#1a1a1a" stroke-width="0.03" textLength="10.41" lengthAdjust="spacingAndGlyphs">PB</text>
<text x="163.6" y="340.5" font-size="8.97" text-anchor="middle" fill="#1a1a1a" stroke="#1a1a1a" stroke-width="0.03" textLength="11.27" lengthAdjust="spacingAndGlyphs">TIL</text>
<text x="116.6" y="354.5" font-size="9.6" text-anchor="middle" fill="#1a1a1a" stroke="#1a1a1a" stroke-width="0.03" textLength="27.92" lengthAdjust="spacingAndGlyphs">Tissue</text>
<text x="27.1" y="265.3" font-size="9.6" text-anchor="middle" fill="#1a1a1a" stroke="#1a1a1a" stroke-width="0.03" textLength="125" lengthAdjust="spacingAndGlyphs" transform="rotate(-90 27.1 265.3)">CD107a surface expression (%)</text>
<line x1="235.6" y1="316.9" x2="238.7" y2="316.9" stroke="#1e1e1e" stroke-width="1.15"/>
<text x="233.3" y="319.59999999999997" font-size="8.74" text-anchor="end" fill="#1a1a1a" stroke="#1a1a1a" stroke-width="0.03" textLength="4.23" lengthAdjust="spacingAndGlyphs">0</text>
<line x1="235.6" y1="290.075" x2="238.7" y2="290.075" stroke="#1e1e1e" stroke-width="1.15"/>
<text x="233.3" y="292.775" font-size="8.74" text-anchor="end" fill="#1a1a1a" stroke="#1a1a1a" stroke-width="0.03" textLength="8.45" lengthAdjust="spacingAndGlyphs">25</text>
<line x1="235.6" y1="263.25" x2="238.7" y2="263.25" stroke="#1e1e1e" stroke-width="1.15"/>
<text x="233.3" y="265.95" font-size="8.74" text-anchor="end" fill="#1a1a1a" stroke="#1a1a1a" stroke-width="0.03" textLength="8.45" lengthAdjust="spacingAndGlyphs">50</text>
<line x1="235.6" y1="236.42499999999998" x2="238.7" y2="236.42499999999998" stroke="#1e1e1e" stroke-width="1.15"/>
<text x="233.3" y="239.12499999999997" font-size="8.74" text-anchor="end" fill="#1a1a1a" stroke="#1a1a1a" stroke-width="0.03" textLength="8.45" lengthAdjust="spacingAndGlyphs">75</text>
<line x1="235.6" y1="209.59999999999997" x2="238.7" y2="209.59999999999997" stroke="#1e1e1e" stroke-width="1.15"/>
<text x="233.3" y="212.29999999999995" font-size="8.74" text-anchor="end" fill="#1a1a1a" stroke="#1a1a1a" stroke-width="0.03" textLength="12.68" lengthAdjust="spacingAndGlyphs">100</text>
<polygon points="262.80,270.50 262.86,271.10 262.92,271.70 262.98,272.29 263.05,272.89 263.11,273.49 263.19,274.09 263.26,274.69 263.33,275.29 263.41,275.88 263.49,276.48 263.58,277.08 263.66,277.68 263.74,278.28 263.83,278.88 263.92,279.47 264.01,280.07 264.10,280.67 264.20,281.27 264.30,281.87 264.40,282.47 264.50,283.06 264.61,283.66 264.72,284.26 264.83,284.86 264.95,285.46 265.07,286.06 265.20,286.65 265.33,287.25 265.47,287.85 265.61,288.45 265.78,289.05 265.96,289.65 266.15,290.24 266.35,290.84 266.56,291.44 266.75,292.04 266.94,292.64 267.11,293.24 267.26,293.83 267.40,294.43 267.54,295.03 267.69,295.63 267.83,296.23 267.96,296.83 268.06,297.42 268.14,298.02 268.19,298.62 268.20,299.22 268.18,299.82 268.13,300.42 268.06,301.01 267.97,301.61 267.87,302.21 267.74,302.81 267.56,303.41 267.20,304.01 266.71,304.60 266.13,305.20 265.50,305.80 245.50,305.80 244.87,305.20 244.29,304.60 243.80,304.01 243.44,303.41 243.26,302.81 243.13,302.21 243.03,301.61 242.94,301.01 242.87,300.42 242.82,299.82 242.80,299.22 242.81,298.62 242.86,298.02 242.94,297.42 243.04,296.83 243.17,296.23 243.31,295.63 243.46,295.03 243.60,294.43 243.74,293.83 243.89,293.24 244.06,292.64 244.25,292.04 244.44,291.44 244.65,290.84 244.85,290.24 245.04,289.65 245.22,289.05 245.39,288.45 245.53,287.85 245.67,287.25 245.80,286.65 245.93,286.06 246.05,285.46 246.17,284.86 246.28,284.26 246.39,283.66 246.50,283.06 246.60,282.47 246.70,281.87 246.80,281.27 246.90,280.67 246.99,280.07 247.08,279.47 247.17,278.88 247.26,278.28 247.34,277.68 247.42,277.08 247.51,276.48 247.59,275.88 247.67,275.29 247.74,274.69 247.81,274.09 247.89,273.49 247.95,272.89 248.02,272.29 248.08,271.70 248.14,271.10 248.20,270.50" fill="#c8cadc" stroke="#4a4a55" stroke-width="0.6" stroke-linejoin="round"/>
<line x1="255.5" y1="270.5" x2="255.5" y2="283.4" stroke="#333" stroke-width="0.54"/>
<line x1="255.5" y1="305.8" x2="255.5" y2="305.8" stroke="#333" stroke-width="0.54"/>
<rect x="252.3" y="283.4" width="6.4" height="22.400000000000034" fill="#7f8aab" stroke="#333" stroke-width="0.6"/>
<line x1="252.3" y1="296.5" x2="258.7" y2="296.5" stroke="#222" stroke-width="1.1"/>
<polygon points="290.70,303.80 290.51,304.03 290.32,304.26 290.14,304.50 289.97,304.73 289.80,304.96 289.65,305.19 289.50,305.43 289.37,305.66 289.25,305.89 289.14,306.12 289.04,306.35 288.93,306.59 288.82,306.82 288.72,307.05 288.62,307.28 288.52,307.52 288.44,307.75 288.36,307.98 288.30,308.21 288.25,308.44 288.22,308.68 288.20,308.91 288.22,309.14 288.31,309.37 288.47,309.61 288.69,309.84 288.95,310.07 289.24,310.30 289.56,310.53 289.88,310.77 290.20,311.00 290.54,311.23 290.95,311.46 291.40,311.69 291.89,311.93 292.40,312.16 292.92,312.39 293.43,312.62 293.91,312.86 294.38,313.09 294.91,313.32 295.48,313.55 296.05,313.78 296.56,314.02 296.95,314.25 297.17,314.48 297.18,314.71 297.03,314.95 296.76,315.18 296.40,315.41 295.96,315.64 295.47,315.87 294.94,316.11 294.22,316.34 293.31,316.57 292.22,316.80 290.99,317.04 289.64,317.27 288.20,317.50 280.20,317.50 278.76,317.27 277.41,317.04 276.18,316.80 275.09,316.57 274.18,316.34 273.46,316.11 272.93,315.87 272.44,315.64 272.00,315.41 271.64,315.18 271.37,314.95 271.22,314.71 271.23,314.48 271.45,314.25 271.84,314.02 272.35,313.78 272.92,313.55 273.49,313.32 274.02,313.09 274.49,312.86 274.97,312.62 275.48,312.39 276.00,312.16 276.51,311.93 277.00,311.69 277.45,311.46 277.86,311.23 278.20,311.00 278.52,310.77 278.84,310.53 279.16,310.30 279.45,310.07 279.71,309.84 279.93,309.61 280.09,309.37 280.18,309.14 280.20,308.91 280.18,308.68 280.15,308.44 280.10,308.21 280.04,307.98 279.96,307.75 279.88,307.52 279.78,307.28 279.68,307.05 279.58,306.82 279.47,306.59 279.36,306.35 279.26,306.12 279.15,305.89 279.03,305.66 278.90,305.43 278.75,305.19 278.60,304.96 278.43,304.73 278.26,304.50 278.08,304.26 277.89,304.03 277.70,303.80" fill="#c8cadc" stroke="#555" stroke-width="0.6" stroke-linejoin="round"/>
<line x1="284.2" y1="303.8" x2="284.2" y2="310" stroke="#333" stroke-width="0.54"/>
<line x1="284.2" y1="314.6" x2="284.2" y2="317.5" stroke="#333" stroke-width="0.54"/>
<rect x="281.0" y="310" width="6.4" height="4.600000000000023" fill="#7f8aab" stroke="#333" stroke-width="0.6"/>
<line x1="281.0" y1="312" x2="287.4" y2="312" stroke="#222" stroke-width="1.0"/>
<polygon points="333.00,293.00 332.99,293.20 332.95,293.39 332.89,293.59 332.81,293.79 332.71,293.98 332.59,294.18 332.46,294.38 332.33,294.57 332.18,294.77 332.03,294.97 331.83,295.16 331.53,295.36 331.13,295.56 330.66,295.75 330.14,295.95 329.58,296.15 329.00,296.34 328.42,296.54 327.86,296.74 327.34,296.93 326.87,297.13 326.48,297.33 326.18,297.52 325.99,297.72 325.85,297.92 325.72,298.11 325.59,298.31 325.48,298.51 325.37,298.70 325.27,298.90 325.19,299.09 325.12,299.29 325.06,299.49 325.02,299.68 325.00,299.88 325.00,300.08 325.03,300.27 325.10,300.47 325.18,300.67 325.29,300.86 325.41,301.06 325.54,301.26 325.67,301.45 325.80,301.65 325.92,301.85 326.02,302.04 326.13,302.24 326.23,302.44 326.33,302.63 326.44,302.83 326.54,303.03 326.65,303.22 326.75,303.42 326.86,303.62 326.96,303.81 327.07,304.01 327.18,304.21 327.29,304.40 327.40,304.60 312.60,304.60 312.71,304.40 312.82,304.21 312.93,304.01 313.04,303.81 313.14,303.62 313.25,303.42 313.35,303.22 313.46,303.03 313.56,302.83 313.67,302.63 313.77,302.44 313.87,302.24 313.98,302.04 314.08,301.85 314.20,301.65 314.33,301.45 314.46,301.26 314.59,301.06 314.71,300.86 314.82,300.67 314.90,300.47 314.97,300.27 315.00,300.08 315.00,299.88 314.98,299.68 314.94,299.49 314.88,299.29 314.81,299.09 314.73,298.90 314.63,298.70 314.52,298.51 314.41,298.31 314.28,298.11 314.15,297.92 314.01,297.72 313.82,297.52 313.52,297.33 313.13,297.13 312.66,296.93 312.14,296.74 311.58,296.54 311.00,296.34 310.42,296.15 309.86,295.95 309.34,295.75 308.87,295.56 308.47,295.36 308.17,295.16 307.97,294.97 307.82,294.77 307.67,294.57 307.54,294.38 307.41,294.18 307.29,293.98 307.19,293.79 307.11,293.59 307.05,293.39 307.01,293.20 307.00,293.00" fill="#c8cadc" stroke="#555" stroke-width="0.6" stroke-linejoin="round"/>
<line x1="320" y1="293" x2="320" y2="293.8" stroke="#333" stroke-width="0.54"/>
<line x1="320" y1="299.7" x2="320" y2="304.6" stroke="#333" stroke-width="0.54"/>
<rect x="317.1" y="293.8" width="5.8" height="5.899999999999977" fill="#7f8aab" stroke="#333" stroke-width="0.6"/>
<line x1="317.1" y1="296" x2="322.9" y2="296" stroke="#222" stroke-width="1.0"/>
<polygon points="354.60,301.50 354.24,301.77 353.89,302.05 353.56,302.32 353.25,302.60 352.96,302.87 352.69,303.15 352.44,303.42 352.22,303.70 352.02,303.97 351.83,304.25 351.64,304.52 351.46,304.79 351.29,305.07 351.16,305.34 351.06,305.62 351.00,305.89 351.01,306.17 351.08,306.44 351.21,306.72 351.38,306.99 351.60,307.27 351.85,307.54 352.13,307.82 352.44,308.09 352.75,308.36 353.08,308.64 353.40,308.91 353.75,309.19 354.22,309.46 354.80,309.74 355.46,310.01 356.19,310.29 356.95,310.56 357.72,310.84 358.49,311.11 359.22,311.38 359.90,311.66 360.51,311.93 361.01,312.21 361.39,312.48 361.63,312.76 361.70,313.03 361.64,313.31 361.48,313.58 361.23,313.86 360.91,314.13 360.53,314.41 360.09,314.68 359.60,314.95 359.08,315.23 358.53,315.50 357.96,315.78 357.39,316.05 356.69,316.33 355.84,316.60 354.87,316.88 353.81,317.15 352.67,317.43 351.50,317.70 345.50,317.70 344.33,317.43 343.19,317.15 342.13,316.88 341.16,316.60 340.31,316.33 339.61,316.05 339.04,315.78 338.47,315.50 337.92,315.23 337.40,314.95 336.91,314.68 336.47,314.41 336.09,314.13 335.77,313.86 335.52,313.58 335.36,313.31 335.30,313.03 335.37,312.76 335.61,312.48 335.99,312.21 336.49,311.93 337.10,311.66 337.78,311.38 338.51,311.11 339.28,310.84 340.05,310.56 340.81,310.29 341.54,310.01 342.20,309.74 342.78,309.46 343.25,309.19 343.60,308.91 343.92,308.64 344.25,308.36 344.56,308.09 344.87,307.82 345.15,307.54 345.40,307.27 345.62,306.99 345.79,306.72 345.92,306.44 345.99,306.17 346.00,305.89 345.94,305.62 345.84,305.34 345.71,305.07 345.54,304.79 345.36,304.52 345.17,304.25 344.98,303.97 344.78,303.70 344.56,303.42 344.31,303.15 344.04,302.87 343.75,302.60 343.44,302.32 343.11,302.05 342.76,301.77 342.40,301.50" fill="#c8cadc" stroke="#555" stroke-width="0.6" stroke-linejoin="round"/>
<line x1="348.5" y1="301.5" x2="348.5" y2="309.2" stroke="#333" stroke-width="0.54"/>
<line x1="348.5" y1="313.8" x2="348.5" y2="317.7" stroke="#333" stroke-width="0.54"/>
<rect x="345.8" y="309.2" width="5.4" height="4.600000000000023" fill="#7f8aab" stroke="#333" stroke-width="0.6"/>
<line x1="345.8" y1="311.5" x2="351.2" y2="311.5" stroke="#222" stroke-width="1.0"/>
<circle cx="255" cy="271" r="0.85" fill="#333" fill-opacity="0.8"/>
<circle cx="254" cy="288" r="0.85" fill="#333" fill-opacity="0.8"/>
<circle cx="253" cy="305" r="0.85" fill="#333" fill-opacity="0.8"/>
<circle cx="257" cy="300" r="0.85" fill="#333" fill-opacity="0.8"/>
<circle cx="285" cy="304" r="0.85" fill="#333" fill-opacity="0.8"/>
<circle cx="282" cy="317" r="0.85" fill="#333" fill-opacity="0.8"/>
<circle cx="287" cy="316" r="0.85" fill="#333" fill-opacity="0.8"/>
<circle cx="320" cy="294" r="0.85" fill="#333" fill-opacity="0.8"/>
<circle cx="322" cy="294" r="0.85" fill="#333" fill-opacity="0.8"/>
<circle cx="321" cy="305" r="0.85" fill="#333" fill-opacity="0.8"/>
<circle cx="348" cy="301" r="0.85" fill="#333" fill-opacity="0.8"/>
<circle cx="349" cy="317" r="0.85" fill="#333" fill-opacity="0.8"/>
<circle cx="346" cy="311" r="0.85" fill="#333" fill-opacity="0.8"/>
<rect x="238.6" y="194.5" width="63.00000000000003" height="9.0" fill="#c6c2c2" stroke="#1e1e1e" stroke-width="1.3"/>
<text x="270.1" y="201.5" font-size="7.3" text-anchor="middle" fill="#1a1a1a" stroke="#1a1a1a" stroke-width="0.03" textLength="14.6" lengthAdjust="spacingAndGlyphs">CD4</text>
<rect x="303.6" y="194.5" width="62.39999999999998" height="9.0" fill="#c6c2c2" stroke="#1e1e1e" stroke-width="1.3"/>
<text x="334.8" y="201.5" font-size="7.3" text-anchor="middle" fill="#1a1a1a" stroke="#1a1a1a" stroke-width="0.03" textLength="14.6" lengthAdjust="spacingAndGlyphs">CD8</text>
<rect x="238.6" y="203.5" width="63" height="123.9" fill="none" stroke="#1e1e1e" stroke-width="1.3"/>
<rect x="303.6" y="203.5" width="62.4" height="123.9" fill="none" stroke="#1e1e1e" stroke-width="1.3"/>
<text x="270" y="214" font-size="7.67" text-anchor="middle" fill="#1a1a1a" stroke="#1a1a1a" stroke-width="0.03" textLength="31.64" lengthAdjust="spacingAndGlyphs">Wilcoxon,</text>
<text x="270" y="223" font-size="7.67" text-anchor="middle" fill="#1a1a1a" stroke="#1a1a1a" stroke-width="0.03" textLength="28.5" lengthAdjust="spacingAndGlyphs">p = 0.043</text>
<text x="334.6" y="214" font-size="7.67" text-anchor="middle" fill="#1a1a1a" stroke="#1a1a1a" stroke-width="0.03" textLength="31.64" lengthAdjust="spacingAndGlyphs">Wilcoxon,</text>
<text x="334.6" y="223" font-size="7.67" text-anchor="middle" fill="#1a1a1a" stroke="#1a1a1a" stroke-width="0.03" textLength="23.5" lengthAdjust="spacingAndGlyphs">p = 0.11</text>
<line x1="255.5" y1="327.2" x2="255.5" y2="330" stroke="#1e1e1e" stroke-width="1.15"/>
<text x="255.5" y="326" font-size="7.88" text-anchor="middle" fill="#1a1a1a" stroke="#1a1a1a" stroke-width="0.03" textLength="12.38" lengthAdjust="spacingAndGlyphs">n=4</text>
<line x1="284.2" y1="327.2" x2="284.2" y2="330" stroke="#1e1e1e" stroke-width="1.15"/>
<text x="284.2" y="326" font-size="7.88" text-anchor="middle" fill="#1a1a1a" stroke="#1a1a1a" stroke-width="0.03" textLength="12.38" lengthAdjust="spacingAndGlyphs">n=6</text>
<line x1="320" y1="327.2" x2="320" y2="330" stroke="#1e1e1e" stroke-width="1.15"/>
<text x="320" y="326" font-size="7.88" text-anchor="middle" fill="#1a1a1a" stroke="#1a1a1a" stroke-width="0.03" textLength="12.38" lengthAdjust="spacingAndGlyphs">n=3</text>
<line x1="348.5" y1="327.2" x2="348.5" y2="330" stroke="#1e1e1e" stroke-width="1.15"/>
<text x="348.5" y="326" font-size="7.88" text-anchor="middle" fill="#1a1a1a" stroke="#1a1a1a" stroke-width="0.03" textLength="12.38" lengthAdjust="spacingAndGlyphs">n=4</text>
<text x="255.5" y="340.7" font-size="8.97" text-anchor="middle" fill="#1a1a1a" stroke="#1a1a1a" stroke-width="0.03" textLength="17.77" lengthAdjust="spacingAndGlyphs">Early</text>
<text x="284.2" y="340.7" font-size="8.97" text-anchor="middle" fill="#1a1a1a" stroke="#1a1a1a" stroke-width="0.03" textLength="15.18" lengthAdjust="spacingAndGlyphs">Late</text>
<text x="320" y="340.7" font-size="8.97" text-anchor="middle" fill="#1a1a1a" stroke="#1a1a1a" stroke-width="0.03" textLength="17.77" lengthAdjust="spacingAndGlyphs">Early</text>
<text x="348.5" y="340.7" font-size="8.97" text-anchor="middle" fill="#1a1a1a" stroke="#1a1a1a" stroke-width="0.03" textLength="15.18" lengthAdjust="spacingAndGlyphs">Late</text>
<text x="302" y="354.5" font-size="9.6" text-anchor="middle" fill="#1a1a1a" stroke="#1a1a1a" stroke-width="0.03" textLength="125.7" lengthAdjust="spacingAndGlyphs">Clinical disease stage of biopsy</text>
<text x="213.8" y="266.2" font-size="9.6" text-anchor="middle" fill="#1a1a1a" stroke="#1a1a1a" stroke-width="0.03" textLength="152.5" lengthAdjust="spacingAndGlyphs" transform="rotate(-90 213.8 266.2)">CD107a surface expression in TILs (%)</text>
<line x1="40.2" y1="387.70000000000005" x2="43.5" y2="387.70000000000005" stroke="#1e1e1e" stroke-width="1.15"/>
<text x="36.6" y="390.30000000000007" font-size="8.39" text-anchor="end" fill="#1a1a1a" stroke="#1a1a1a" stroke-width="0.03" textLength="14.21" lengthAdjust="spacingAndGlyphs">1.00</text>
<line x1="40.2" y1="413.175" x2="43.5" y2="413.175" stroke="#1e1e1e" stroke-width="1.15"/>
<text x="36.6" y="415.77500000000003" font-size="8.39" text-anchor="end" fill="#1a1a1a" stroke="#1a1a1a" stroke-width="0.03" textLength="14.21" lengthAdjust="spacingAndGlyphs">0.75</text>
<line x1="40.2" y1="438.65000000000003" x2="43.5" y2="438.65000000000003" stroke="#1e1e1e" stroke-width="1.15"/>
<text x="36.6" y="441.25000000000006" font-size="8.39" text-anchor="end" fill="#1a1a1a" stroke="#1a1a1a" stroke-width="0.03" textLength="14.21" lengthAdjust="spacingAndGlyphs">0.50</text>
<line x1="40.2" y1="464.125" x2="43.5" y2="464.125" stroke="#1e1e1e" stroke-width="1.15"/>
<text x="36.6" y="466.725" font-size="8.39" text-anchor="end" fill="#1a1a1a" stroke="#1a1a1a" stroke-width="0.03" textLength="14.21" lengthAdjust="spacingAndGlyphs">0.25</text>
<line x1="40.2" y1="489.6" x2="43.5" y2="489.6" stroke="#1e1e1e" stroke-width="1.15"/>
<text x="36.6" y="492.20000000000005" font-size="8.39" text-anchor="end" fill="#1a1a1a" stroke="#1a1a1a" stroke-width="0.03" textLength="14.21" lengthAdjust="spacingAndGlyphs">0.00</text>
<line x1="40.2" y1="506.5" x2="43.5" y2="506.5" stroke="#1e1e1e" stroke-width="1.15"/>
<text x="36.6" y="509.1" font-size="8.39" text-anchor="end" fill="#1a1a1a" stroke="#1a1a1a" stroke-width="0.03" textLength="10.15" lengthAdjust="spacingAndGlyphs">0.5</text>
<line x1="40.2" y1="516.6" x2="43.5" y2="516.6" stroke="#1e1e1e" stroke-width="1.15"/>
<text x="36.6" y="519.2" font-size="8.39" text-anchor="end" fill="#1a1a1a" stroke="#1a1a1a" stroke-width="0.03" textLength="10.15" lengthAdjust="spacingAndGlyphs">0.4</text>
<line x1="40.2" y1="526.7" x2="43.5" y2="526.7" stroke="#1e1e1e" stroke-width="1.15"/>
<text x="36.6" y="529.3000000000001" font-size="8.39" text-anchor="end" fill="#1a1a1a" stroke="#1a1a1a" stroke-width="0.03" textLength="10.15" lengthAdjust="spacingAndGlyphs">0.3</text>
<line x1="40.2" y1="536.8" x2="43.5" y2="536.8" stroke="#1e1e1e" stroke-width="1.15"/>
<text x="36.6" y="539.4" font-size="8.39" text-anchor="end" fill="#1a1a1a" stroke="#1a1a1a" stroke-width="0.03" textLength="10.15" lengthAdjust="spacingAndGlyphs">0.2</text>
<line x1="40.2" y1="546.9" x2="43.5" y2="546.9" stroke="#1e1e1e" stroke-width="1.15"/>
<text x="36.6" y="549.5" font-size="8.39" text-anchor="end" fill="#1a1a1a" stroke="#1a1a1a" stroke-width="0.03" textLength="10.15" lengthAdjust="spacingAndGlyphs">0.1</text>
<line x1="40.2" y1="557" x2="43.5" y2="557" stroke="#1e1e1e" stroke-width="1.15"/>
<text x="36.6" y="559.6" font-size="8.39" text-anchor="end" fill="#1a1a1a" stroke="#1a1a1a" stroke-width="0.03" textLength="10.15" lengthAdjust="spacingAndGlyphs">0.0</text>
<line x1="40.2" y1="567.1" x2="43.5" y2="567.1" stroke="#1e1e1e" stroke-width="1.15"/>
<text x="36.6" y="569.7" font-size="8.39" text-anchor="end" fill="#1a1a1a" stroke="#1a1a1a" stroke-width="0.03" textLength="12.58" lengthAdjust="spacingAndGlyphs">-0.1</text>
<line x1="40.2" y1="593.05" x2="43.5" y2="593.05" stroke="#1e1e1e" stroke-width="1.15"/>
<text x="36.6" y="595.65" font-size="8.39" text-anchor="end" fill="#1a1a1a" stroke="#1a1a1a" stroke-width="0.03" textLength="18.27" lengthAdjust="spacingAndGlyphs">0.075</text>
<line x1="40.2" y1="618.5" x2="43.5" y2="618.5" stroke="#1e1e1e" stroke-width="1.15"/>
<text x="36.6" y="621.1" font-size="8.39" text-anchor="end" fill="#1a1a1a" stroke="#1a1a1a" stroke-width="0.03" textLength="14.21" lengthAdjust="spacingAndGlyphs">0.50</text>
<line x1="40.2" y1="643.9499999999999" x2="43.5" y2="643.9499999999999" stroke="#1e1e1e" stroke-width="1.15"/>
<text x="36.6" y="646.55" font-size="8.39" text-anchor="end" fill="#1a1a1a" stroke="#1a1a1a" stroke-width="0.03" textLength="14.21" lengthAdjust="spacingAndGlyphs">0.25</text>
<line x1="40.2" y1="669.4" x2="43.5" y2="669.4" stroke="#1e1e1e" stroke-width="1.15"/>
<text x="36.6" y="672.0" font-size="8.39" text-anchor="end" fill="#1a1a1a" stroke="#1a1a1a" stroke-width="0.03" textLength="14.21" lengthAdjust="spacingAndGlyphs">0.00</text>
<polygon points="77.90,406.40 77.90,407.81 77.90,409.22 77.90,410.63 77.90,412.04 77.90,413.45 77.90,414.86 77.90,416.27 77.90,417.68 77.90,419.09 77.90,420.50 77.90,421.91 77.90,423.32 77.90,424.73 77.90,426.14 77.91,427.55 77.91,428.96 77.93,430.37 77.94,431.78 77.96,433.19 77.98,434.60 78.01,436.01 78.04,437.42 78.07,438.83 78.10,440.24 78.14,441.65 78.19,443.06 78.26,444.47 78.42,445.88 78.67,447.29 78.98,448.71 79.33,450.12 79.72,451.53 80.12,452.94 80.52,454.35 80.91,455.76 81.36,457.17 81.86,458.58 82.39,459.99 82.92,461.40 83.45,462.81 83.94,464.22 84.40,465.63 84.88,467.04 85.35,468.45 85.80,469.86 86.18,471.27 86.45,472.68 86.64,474.09 86.81,475.50 86.95,476.91 87.05,478.32 87.10,479.73 87.09,481.14 87.03,482.55 86.92,483.96 86.78,485.37 86.46,486.78 85.49,488.19 84.20,489.60 57.20,489.60 55.91,488.19 54.94,486.78 54.62,485.37 54.48,483.96 54.37,482.55 54.31,481.14 54.30,479.73 54.35,478.32 54.45,476.91 54.59,475.50 54.76,474.09 54.95,472.68 55.22,471.27 55.60,469.86 56.05,468.45 56.52,467.04 57.00,465.63 57.46,464.22 57.95,462.81 58.48,461.40 59.01,459.99 59.54,458.58 60.04,457.17 60.49,455.76 60.88,454.35 61.28,452.94 61.68,451.53 62.07,450.12 62.42,448.71 62.73,447.29 62.98,445.88 63.14,444.47 63.21,443.06 63.26,441.65 63.30,440.24 63.33,438.83 63.36,437.42 63.39,436.01 63.42,434.60 63.44,433.19 63.46,431.78 63.47,430.37 63.49,428.96 63.49,427.55 63.50,426.14 63.50,424.73 63.50,423.32 63.50,421.91 63.50,420.50 63.50,419.09 63.50,417.68 63.50,416.27 63.50,414.86 63.50,413.45 63.50,412.04 63.50,410.63 63.50,409.22 63.50,407.81 63.50,406.40" fill="#d58985" stroke="#8d4f52" stroke-width="0.6" stroke-linejoin="round"/>
<line x1="70.7" y1="406.4" x2="70.7" y2="443" stroke="#5a2a2e" stroke-width="0.54"/>
<line x1="70.7" y1="485.4" x2="70.7" y2="489.6" stroke="#5a2a2e" stroke-width="0.54"/>
<rect x="65.0" y="443" width="11.4" height="42.39999999999998" fill="#b8545c" stroke="#5a2a2e" stroke-width="0.6"/>
<line x1="65.0" y1="476.3" x2="76.4" y2="476.3" stroke="#222" stroke-width="1.2"/>
<polygon points="124.80,434.20 124.81,435.14 124.82,436.08 124.85,437.02 124.88,437.96 124.92,438.89 124.98,439.83 125.04,440.77 125.10,441.71 125.18,442.65 125.25,443.59 125.34,444.53 125.43,445.47 125.53,446.41 125.62,447.35 125.73,448.28 125.83,449.22 125.95,450.16 126.10,451.10 126.28,452.04 126.50,452.98 126.75,453.92 127.01,454.86 127.28,455.80 127.55,456.74 127.81,457.67 128.07,458.61 128.34,459.55 128.63,460.49 128.93,461.43 129.24,462.37 129.54,463.31 129.84,464.25 130.14,465.19 130.41,466.13 130.67,467.06 130.90,468.00 131.13,468.94 131.36,469.88 131.61,470.82 131.84,471.76 132.07,472.70 132.28,473.64 132.46,474.58 132.61,475.52 132.72,476.45 132.79,477.39 132.80,478.33 132.79,479.27 132.77,480.21 132.74,481.15 132.70,482.09 132.65,483.03 132.58,483.97 132.51,484.91 132.29,485.84 131.80,486.78 131.10,487.72 130.27,488.66 129.40,489.60 102.40,489.60 101.53,488.66 100.70,487.72 100.00,486.78 99.51,485.84 99.29,484.91 99.22,483.97 99.15,483.03 99.10,482.09 99.06,481.15 99.03,480.21 99.01,479.27 99.00,478.33 99.01,477.39 99.08,476.45 99.19,475.52 99.34,474.58 99.52,473.64 99.73,472.70 99.96,471.76 100.19,470.82 100.44,469.88 100.67,468.94 100.90,468.00 101.13,467.06 101.39,466.13 101.66,465.19 101.96,464.25 102.26,463.31 102.56,462.37 102.87,461.43 103.17,460.49 103.46,459.55 103.73,458.61 103.99,457.67 104.25,456.74 104.52,455.80 104.79,454.86 105.05,453.92 105.30,452.98 105.52,452.04 105.70,451.10 105.85,450.16 105.97,449.22 106.07,448.28 106.18,447.35 106.27,446.41 106.37,445.47 106.46,444.53 106.55,443.59 106.62,442.65 106.70,441.71 106.76,440.77 106.82,439.83 106.88,438.89 106.92,437.96 106.95,437.02 106.98,436.08 106.99,435.14 107.00,434.20" fill="#d58985" stroke="#8d4f52" stroke-width="0.6" stroke-linejoin="round"/>
<line x1="115.9" y1="434" x2="115.9" y2="455" stroke="#5a2a2e" stroke-width="0.54"/>
<line x1="115.9" y1="489" x2="115.9" y2="489.6" stroke="#5a2a2e" stroke-width="0.54"/>
<rect x="110.10000000000001" y="455" width="11.6" height="34" fill="#b8545c" stroke="#5a2a2e" stroke-width="0.6"/>
<line x1="110.10000000000001" y1="475.2" x2="121.7" y2="475.2" stroke="#222" stroke-width="1.2"/>
<polygon points="179.10,393.00 179.10,394.37 179.09,395.73 179.07,397.10 179.05,398.46 179.02,399.83 179.00,401.20 178.96,402.56 178.93,403.93 178.89,405.29 178.84,406.66 178.77,408.03 178.68,409.39 178.59,410.76 178.49,412.13 178.38,413.49 178.26,414.86 178.13,416.22 177.99,417.59 177.83,418.96 177.66,420.32 177.44,421.69 177.19,423.05 176.93,424.42 176.69,425.79 176.48,427.15 176.27,428.52 176.06,429.88 175.89,431.25 175.81,432.62 175.84,433.98 175.99,435.35 176.24,436.72 176.86,438.08 178.04,439.45 179.15,440.81 180.31,442.18 181.50,443.55 182.65,444.91 183.71,446.28 184.69,447.64 185.63,449.01 186.52,450.38 187.35,451.74 188.13,453.11 188.89,454.47 189.60,455.84 190.21,457.21 190.70,458.57 191.18,459.94 191.58,461.31 191.79,462.67 191.79,464.04 191.75,465.40 191.68,466.77 191.58,468.14 191.41,469.50 190.77,470.87 189.73,472.23 188.50,473.60 160.50,473.60 159.27,472.23 158.23,470.87 157.59,469.50 157.42,468.14 157.32,466.77 157.25,465.40 157.21,464.04 157.21,462.67 157.42,461.31 157.82,459.94 158.30,458.57 158.79,457.21 159.40,455.84 160.11,454.47 160.87,453.11 161.65,451.74 162.48,450.38 163.37,449.01 164.31,447.64 165.29,446.28 166.35,444.91 167.50,443.55 168.69,442.18 169.85,440.81 170.96,439.45 172.14,438.08 172.76,436.72 173.01,435.35 173.16,433.98 173.19,432.62 173.11,431.25 172.94,429.88 172.73,428.52 172.52,427.15 172.31,425.79 172.07,424.42 171.81,423.05 171.56,421.69 171.34,420.32 171.17,418.96 171.01,417.59 170.87,416.22 170.74,414.86 170.62,413.49 170.51,412.13 170.41,410.76 170.32,409.39 170.23,408.03 170.16,406.66 170.11,405.29 170.07,403.93 170.04,402.56 170.00,401.20 169.98,399.83 169.95,398.46 169.93,397.10 169.91,395.73 169.90,394.37 169.90,393.00" fill="#d58985" stroke="#8d4f52" stroke-width="0.6" stroke-linejoin="round"/>
<line x1="174.0" y1="393" x2="174.0" y2="439" stroke="#5a2a2e" stroke-width="0.54"/>
<line x1="174.0" y1="465" x2="174.0" y2="472.7" stroke="#5a2a2e" stroke-width="0.54"/>
<rect x="168.1" y="439" width="11.8" height="26" fill="#b8545c" stroke="#5a2a2e" stroke-width="0.6"/>
<line x1="168.1" y1="463.5" x2="179.9" y2="463.5" stroke="#222" stroke-width="1.2"/>
<polygon points="236.40,470.30 236.39,470.53 236.36,470.75 236.32,470.98 236.26,471.20 236.20,471.43 236.12,471.65 236.04,471.88 235.96,472.10 235.85,472.33 235.71,472.55 235.55,472.78 235.36,473.01 235.16,473.23 234.93,473.46 234.69,473.68 234.43,473.91 234.16,474.13 233.88,474.36 233.59,474.58 233.21,474.81 232.77,475.03 232.27,475.26 231.74,475.48 231.21,475.71 230.70,475.94 230.25,476.16 229.86,476.39 229.55,476.61 229.26,476.84 228.97,477.06 228.69,477.29 228.43,477.51 228.21,477.74 228.02,477.96 227.89,478.19 227.81,478.42 227.79,478.64 227.77,478.87 227.76,479.09 227.75,479.32 227.73,479.54 227.72,479.77 227.72,479.99 227.71,480.22 227.70,480.44 227.70,480.67 227.70,480.89 227.70,481.12 227.70,481.35 227.70,481.57 227.70,481.80 227.70,482.02 227.70,482.25 227.70,482.47 227.70,482.70 227.70,482.92 227.70,483.15 227.70,483.37 227.70,483.60 210.70,483.60 210.70,483.37 210.70,483.15 210.70,482.92 210.70,482.70 210.70,482.47 210.70,482.25 210.70,482.02 210.70,481.80 210.70,481.57 210.70,481.35 210.70,481.12 210.70,480.89 210.70,480.67 210.70,480.44 210.69,480.22 210.68,479.99 210.68,479.77 210.67,479.54 210.65,479.32 210.64,479.09 210.63,478.87 210.61,478.64 210.59,478.42 210.51,478.19 210.38,477.96 210.19,477.74 209.97,477.51 209.71,477.29 209.43,477.06 209.14,476.84 208.85,476.61 208.54,476.39 208.15,476.16 207.70,475.94 207.19,475.71 206.66,475.48 206.13,475.26 205.63,475.03 205.19,474.81 204.81,474.58 204.52,474.36 204.24,474.13 203.97,473.91 203.71,473.68 203.47,473.46 203.24,473.23 203.04,473.01 202.85,472.78 202.69,472.55 202.55,472.33 202.44,472.10 202.36,471.88 202.28,471.65 202.20,471.43 202.14,471.20 202.08,470.98 202.04,470.75 202.01,470.53 202.00,470.30" fill="#d58985" stroke="#8d4f52" stroke-width="0.6" stroke-linejoin="round"/>
<line x1="219.20000000000002" y1="470" x2="219.20000000000002" y2="473" stroke="#5a2a2e" stroke-width="0.54"/>
<line x1="219.20000000000002" y1="477.4" x2="219.20000000000002" y2="483.6" stroke="#5a2a2e" stroke-width="0.54"/>
<rect x="212.8" y="473" width="12.8" height="4.399999999999977" fill="#b8545c" stroke="#5a2a2e" stroke-width="0.6"/>
<line x1="212.8" y1="475.5" x2="225.60000000000002" y2="475.5" stroke="#222" stroke-width="1.2"/>
<polygon points="285.40,445.00 285.41,445.75 285.42,446.50 285.44,447.25 285.46,448.00 285.48,448.75 285.50,449.49 285.53,450.24 285.56,450.99 285.59,451.74 285.62,452.49 285.65,453.24 285.69,453.99 285.73,454.74 285.77,455.49 285.83,456.24 285.89,456.99 285.97,457.74 286.08,458.48 286.30,459.23 286.60,459.98 286.95,460.73 287.33,461.48 287.72,462.23 288.18,462.98 288.71,463.73 289.29,464.48 289.89,465.23 290.47,465.98 291.02,466.73 291.52,467.47 292.04,468.22 292.55,468.97 293.01,469.72 293.40,470.47 293.67,471.22 293.90,471.97 294.12,472.72 294.31,473.47 294.47,474.22 294.57,474.97 294.60,475.72 294.56,476.46 294.47,477.21 294.34,477.96 294.18,478.71 294.02,479.46 293.86,480.21 293.68,480.96 293.48,481.71 293.26,482.46 293.03,483.21 292.77,483.96 292.51,484.71 292.23,485.45 291.91,486.20 291.57,486.95 291.20,487.70 290.81,488.45 290.40,489.20 264.80,489.20 264.39,488.45 264.00,487.70 263.63,486.95 263.29,486.20 262.97,485.45 262.69,484.71 262.43,483.96 262.17,483.21 261.94,482.46 261.72,481.71 261.52,480.96 261.34,480.21 261.18,479.46 261.02,478.71 260.86,477.96 260.73,477.21 260.64,476.46 260.60,475.72 260.63,474.97 260.73,474.22 260.89,473.47 261.08,472.72 261.30,471.97 261.53,471.22 261.80,470.47 262.19,469.72 262.65,468.97 263.16,468.22 263.68,467.47 264.18,466.73 264.73,465.98 265.31,465.23 265.91,464.48 266.49,463.73 267.02,462.98 267.48,462.23 267.87,461.48 268.25,460.73 268.60,459.98 268.90,459.23 269.12,458.48 269.23,457.74 269.31,456.99 269.37,456.24 269.43,455.49 269.47,454.74 269.51,453.99 269.55,453.24 269.58,452.49 269.61,451.74 269.64,450.99 269.67,450.24 269.70,449.49 269.72,448.75 269.74,448.00 269.76,447.25 269.78,446.50 269.79,445.75 269.80,445.00" fill="#d58985" stroke="#8d4f52" stroke-width="0.6" stroke-linejoin="round"/>
<line x1="277.6" y1="445" x2="277.6" y2="463.1" stroke="#5a2a2e" stroke-width="0.54"/>
<line x1="277.6" y1="481.3" x2="277.6" y2="489.2" stroke="#5a2a2e" stroke-width="0.54"/>
<rect x="271.75" y="463.1" width="11.7" height="18.19999999999999" fill="#b8545c" stroke="#5a2a2e" stroke-width="0.6"/>
<line x1="271.75" y1="473.9" x2="283.45000000000005" y2="473.9" stroke="#222" stroke-width="1.2"/>
<polygon points="330.00,459.80 329.86,460.28 329.71,460.77 329.56,461.25 329.39,461.74 329.22,462.22 329.01,462.71 328.79,463.19 328.55,463.68 328.32,464.16 328.09,464.65 327.88,465.13 327.71,465.62 327.57,466.10 327.45,466.59 327.33,467.07 327.22,467.56 327.12,468.04 327.03,468.53 326.96,469.01 326.92,469.49 326.90,469.98 326.97,470.46 327.18,470.95 327.49,471.43 327.87,471.92 328.29,472.40 328.71,472.89 329.14,473.37 329.64,473.86 330.22,474.34 330.82,474.83 331.44,475.31 332.05,475.80 332.64,476.28 333.25,476.77 333.89,477.25 334.52,477.74 335.15,478.22 335.76,478.71 336.34,479.19 336.87,479.67 337.36,480.16 337.87,480.64 338.38,481.13 338.87,481.61 339.26,482.10 339.52,482.58 339.60,483.07 339.54,483.55 339.41,484.04 339.21,484.52 338.95,485.01 338.65,485.49 338.32,485.98 337.83,486.46 337.07,486.95 336.11,487.43 335.00,487.92 333.80,488.40 311.80,488.40 310.60,487.92 309.49,487.43 308.53,486.95 307.77,486.46 307.28,485.98 306.95,485.49 306.65,485.01 306.39,484.52 306.19,484.04 306.06,483.55 306.00,483.07 306.08,482.58 306.34,482.10 306.73,481.61 307.22,481.13 307.73,480.64 308.24,480.16 308.73,479.67 309.26,479.19 309.84,478.71 310.45,478.22 311.08,477.74 311.71,477.25 312.35,476.77 312.96,476.28 313.55,475.80 314.16,475.31 314.78,474.83 315.38,474.34 315.96,473.86 316.46,473.37 316.89,472.89 317.31,472.40 317.73,471.92 318.11,471.43 318.42,470.95 318.63,470.46 318.70,469.98 318.68,469.49 318.64,469.01 318.57,468.53 318.48,468.04 318.38,467.56 318.27,467.07 318.15,466.59 318.03,466.10 317.89,465.62 317.72,465.13 317.51,464.65 317.28,464.16 317.05,463.68 316.81,463.19 316.59,462.71 316.38,462.22 316.21,461.74 316.04,461.25 315.89,460.77 315.74,460.28 315.60,459.80" fill="#d58985" stroke="#8d4f52" stroke-width="0.6" stroke-linejoin="round"/>
<line x1="322.8" y1="459.8" x2="322.8" y2="474.7" stroke="#5a2a2e" stroke-width="0.54"/>
<line x1="322.8" y1="485.6" x2="322.8" y2="488.4" stroke="#5a2a2e" stroke-width="0.54"/>
<rect x="317.0" y="474.7" width="11.6" height="10.900000000000034" fill="#b8545c" stroke="#5a2a2e" stroke-width="0.6"/>
<line x1="317.0" y1="481.9" x2="328.6" y2="481.9" stroke="#222" stroke-width="1.2"/>
<polygon points="390.30,448.70 390.59,449.39 390.88,450.08 391.15,450.76 391.41,451.45 391.65,452.14 391.87,452.83 392.08,453.52 392.29,454.21 392.49,454.89 392.69,455.58 392.88,456.27 393.06,456.96 393.24,457.65 393.41,458.33 393.59,459.02 393.75,459.71 393.92,460.40 394.08,461.09 394.24,461.77 394.40,462.46 394.55,463.15 394.71,463.84 394.86,464.53 395.01,465.22 395.15,465.90 395.29,466.59 395.44,467.28 395.57,467.97 395.71,468.66 395.85,469.34 395.98,470.03 396.11,470.72 396.24,471.41 396.36,472.10 396.48,472.78 396.61,473.47 396.73,474.16 396.84,474.85 396.97,475.54 397.10,476.23 397.24,476.91 397.38,477.60 397.51,478.29 397.64,478.98 397.76,479.67 397.87,480.35 397.96,481.04 398.03,481.73 398.08,482.42 398.10,483.11 398.09,483.79 398.07,484.48 398.02,485.17 397.95,485.86 397.87,486.55 397.75,487.24 397.41,487.92 396.89,488.61 396.30,489.30 365.30,489.30 364.71,488.61 364.19,487.92 363.85,487.24 363.73,486.55 363.65,485.86 363.58,485.17 363.53,484.48 363.51,483.79 363.50,483.11 363.52,482.42 363.57,481.73 363.64,481.04 363.73,480.35 363.84,479.67 363.96,478.98 364.09,478.29 364.22,477.60 364.36,476.91 364.50,476.23 364.63,475.54 364.76,474.85 364.87,474.16 364.99,473.47 365.12,472.78 365.24,472.10 365.36,471.41 365.49,470.72 365.62,470.03 365.75,469.34 365.89,468.66 366.03,467.97 366.16,467.28 366.31,466.59 366.45,465.90 366.59,465.22 366.74,464.53 366.89,463.84 367.05,463.15 367.20,462.46 367.36,461.77 367.52,461.09 367.68,460.40 367.85,459.71 368.01,459.02 368.19,458.33 368.36,457.65 368.54,456.96 368.72,456.27 368.91,455.58 369.11,454.89 369.31,454.21 369.52,453.52 369.73,452.83 369.95,452.14 370.19,451.45 370.45,450.76 370.72,450.08 371.01,449.39 371.30,448.70" fill="#d58985" stroke="#8d4f52" stroke-width="0.6" stroke-linejoin="round"/>
<line x1="380.8" y1="448.7" x2="380.8" y2="462.3" stroke="#5a2a2e" stroke-width="0.54"/>
<line x1="380.8" y1="488.4" x2="380.8" y2="489.3" stroke="#5a2a2e" stroke-width="0.54"/>
<rect x="374.95" y="462.3" width="11.7" height="26.099999999999966" fill="#b8545c" stroke="#5a2a2e" stroke-width="0.6"/>
<line x1="374.95" y1="472.7" x2="386.65000000000003" y2="472.7" stroke="#222" stroke-width="1.2"/>
<polygon points="428.50,487.40 429.49,487.43 430.44,487.47 431.36,487.50 432.24,487.54 433.09,487.57 433.91,487.60 434.69,487.64 435.44,487.67 436.15,487.71 436.83,487.74 437.48,487.77 438.09,487.81 438.67,487.84 439.21,487.87 439.72,487.91 440.20,487.94 440.64,487.98 441.05,488.01 441.43,488.04 441.77,488.08 442.07,488.11 442.34,488.15 442.58,488.18 442.79,488.21 442.96,488.25 443.09,488.28 443.19,488.32 443.26,488.35 443.30,488.38 443.30,488.42 443.26,488.45 443.19,488.48 443.09,488.52 442.96,488.55 442.79,488.59 442.58,488.62 442.34,488.65 442.07,488.69 441.77,488.72 441.43,488.76 441.05,488.79 440.64,488.82 440.20,488.86 439.72,488.89 439.21,488.93 438.67,488.96 438.09,488.99 437.48,489.03 436.83,489.06 436.15,489.09 435.44,489.13 434.69,489.16 433.91,489.20 433.09,489.23 432.24,489.26 431.36,489.30 430.44,489.33 429.49,489.37 428.50,489.40 423.50,489.40 422.51,489.37 421.56,489.33 420.64,489.30 419.76,489.26 418.91,489.23 418.09,489.20 417.31,489.16 416.56,489.13 415.85,489.09 415.17,489.06 414.52,489.03 413.91,488.99 413.33,488.96 412.79,488.93 412.28,488.89 411.80,488.86 411.36,488.82 410.95,488.79 410.57,488.76 410.23,488.72 409.93,488.69 409.66,488.65 409.42,488.62 409.21,488.59 409.04,488.55 408.91,488.52 408.81,488.48 408.74,488.45 408.70,488.42 408.70,488.38 408.74,488.35 408.81,488.32 408.91,488.28 409.04,488.25 409.21,488.21 409.42,488.18 409.66,488.15 409.93,488.11 410.23,488.08 410.57,488.04 410.95,488.01 411.36,487.98 411.80,487.94 412.28,487.91 412.79,487.87 413.33,487.84 413.91,487.81 414.52,487.77 415.17,487.74 415.85,487.71 416.56,487.67 417.31,487.64 418.09,487.60 418.91,487.57 419.76,487.54 420.64,487.50 421.56,487.47 422.51,487.43 423.50,487.40" fill="#d58985" stroke="#6a3030" stroke-width="0.8" stroke-linejoin="round"/>
<line x1="426.0" y1="485.2" x2="426.0" y2="487.2" stroke="#2a0a0e" stroke-width="0.54"/>
<line x1="426.0" y1="489" x2="426.0" y2="489.5" stroke="#2a0a0e" stroke-width="0.54"/>
<rect x="420.5" y="487.2" width="11.0" height="1.8000000000000114" fill="#3a1a1e" stroke="#2a0a0e" stroke-width="0.6"/>
<line x1="420.5" y1="488.2" x2="431.5" y2="488.2" stroke="#222" stroke-width="1.0"/>
<line x1="420.5" y1="485.2" x2="431.5" y2="485.2" stroke="#5a2a2e" stroke-width="0.8"/>
<polygon points="84.80,525.60 85.53,526.08 86.16,526.55 86.51,527.03 86.66,527.51 86.80,527.98 86.92,528.46 87.01,528.93 87.09,529.41 87.15,529.89 87.18,530.36 87.20,530.84 87.19,531.32 87.14,531.79 87.05,532.27 86.93,532.74 86.79,533.22 86.62,533.70 86.45,534.17 86.27,534.65 86.10,535.13 85.93,535.60 85.78,536.08 85.61,536.55 85.41,537.03 85.20,537.51 84.99,537.98 84.78,538.46 84.58,538.94 84.40,539.41 84.26,539.89 84.15,540.36 84.10,540.84 84.11,541.32 84.16,541.79 84.24,542.27 84.35,542.75 84.48,543.22 84.60,543.70 84.73,544.17 84.83,544.65 84.92,545.13 85.01,545.60 85.10,546.08 85.19,546.56 85.27,547.03 85.34,547.51 85.38,547.98 85.40,548.46 85.39,548.94 85.36,549.41 85.30,549.89 85.23,550.37 85.13,550.84 85.01,551.32 84.87,551.79 84.63,552.27 84.04,552.75 83.21,553.22 82.30,553.70 58.30,553.70 57.39,553.22 56.56,552.75 55.97,552.27 55.73,551.79 55.59,551.32 55.47,550.84 55.37,550.37 55.30,549.89 55.24,549.41 55.21,548.94 55.20,548.46 55.22,547.98 55.26,547.51 55.33,547.03 55.41,546.56 55.50,546.08 55.59,545.60 55.68,545.13 55.77,544.65 55.87,544.17 56.00,543.70 56.12,543.22 56.25,542.75 56.36,542.27 56.44,541.79 56.49,541.32 56.50,540.84 56.45,540.36 56.34,539.89 56.20,539.41 56.02,538.94 55.82,538.46 55.61,537.98 55.40,537.51 55.19,537.03 54.99,536.55 54.82,536.08 54.67,535.60 54.50,535.13 54.33,534.65 54.15,534.17 53.98,533.70 53.81,533.22 53.67,532.74 53.55,532.27 53.46,531.79 53.41,531.32 53.40,530.84 53.42,530.36 53.45,529.89 53.51,529.41 53.59,528.93 53.68,528.46 53.80,527.98 53.94,527.51 54.09,527.03 54.44,526.55 55.07,526.08 55.80,525.60" fill="#9ea1bb" stroke="#4a4d5e" stroke-width="0.6" stroke-linejoin="round"/>
<line x1="70.7" y1="525" x2="70.7" y2="530.8" stroke="#333" stroke-width="0.54"/>
<line x1="70.7" y1="549.5" x2="70.7" y2="553.8" stroke="#333" stroke-width="0.54"/>
<rect x="64.45" y="530.8" width="12.5" height="18.700000000000045" fill="#6b7a99" stroke="#333" stroke-width="0.6"/>
<line x1="64.45" y1="535.5" x2="76.95" y2="535.5" stroke="#222" stroke-width="1.1"/>
<polygon points="124.25,508.30 124.02,508.93 123.77,509.55 123.49,510.18 123.20,510.80 122.87,511.43 122.47,512.05 122.04,512.68 121.60,513.30 121.18,513.93 120.81,514.55 120.52,515.18 120.24,515.81 119.97,516.43 119.72,517.06 119.51,517.68 119.36,518.31 119.30,518.93 119.36,519.56 119.57,520.18 119.87,520.81 120.24,521.43 120.64,522.06 121.17,522.68 121.89,523.31 122.72,523.94 123.62,524.56 124.50,525.19 125.31,525.81 126.07,526.44 126.84,527.06 127.59,527.69 128.32,528.31 129.03,528.94 129.79,529.56 130.63,530.19 131.47,530.82 132.19,531.44 132.70,532.07 132.90,532.69 132.83,533.32 132.63,533.94 132.32,534.57 131.95,535.19 131.53,535.82 131.09,536.44 130.66,537.07 130.27,537.69 129.93,538.32 129.61,538.95 129.28,539.57 128.96,540.20 128.64,540.82 128.31,541.45 127.99,542.07 127.67,542.70 127.35,543.32 127.03,543.95 126.72,544.57 126.40,545.20 104.80,545.20 104.48,544.57 104.17,543.95 103.85,543.32 103.53,542.70 103.21,542.07 102.89,541.45 102.56,540.82 102.24,540.20 101.92,539.57 101.59,538.95 101.27,538.32 100.93,537.69 100.54,537.07 100.11,536.44 99.67,535.82 99.25,535.19 98.88,534.57 98.57,533.94 98.37,533.32 98.30,532.69 98.50,532.07 99.01,531.44 99.73,530.82 100.57,530.19 101.41,529.56 102.17,528.94 102.88,528.31 103.61,527.69 104.36,527.06 105.13,526.44 105.89,525.81 106.70,525.19 107.58,524.56 108.48,523.94 109.31,523.31 110.03,522.68 110.56,522.06 110.96,521.43 111.33,520.81 111.63,520.18 111.84,519.56 111.90,518.93 111.84,518.31 111.69,517.68 111.48,517.06 111.23,516.43 110.96,515.81 110.68,515.18 110.39,514.55 110.02,513.93 109.60,513.30 109.16,512.68 108.73,512.05 108.33,511.43 108.00,510.80 107.71,510.18 107.43,509.55 107.18,508.93 106.95,508.30" fill="#9ea1bb" stroke="#4a4d5e" stroke-width="0.6" stroke-linejoin="round"/>
<line x1="115.9" y1="508.3" x2="115.9" y2="525" stroke="#333" stroke-width="0.54"/>
<line x1="115.9" y1="537.5" x2="115.9" y2="545.5" stroke="#333" stroke-width="0.54"/>
<rect x="110.25" y="525" width="11.3" height="12.5" fill="#6b7a99" stroke="#333" stroke-width="0.6"/>
<line x1="110.25" y1="532.5" x2="121.55000000000001" y2="532.5" stroke="#222" stroke-width="1.1"/>
<polygon points="186.70,509.70 186.67,510.34 186.64,510.97 186.61,511.61 186.59,512.25 186.57,512.89 186.56,513.52 186.54,514.16 186.53,514.80 186.52,515.44 186.51,516.07 186.51,516.71 186.51,517.35 186.50,517.98 186.50,518.62 186.50,519.26 186.50,519.90 186.50,520.53 186.51,521.17 186.52,521.81 186.53,522.45 186.55,523.08 186.57,523.72 186.60,524.36 186.63,524.99 186.66,525.63 186.70,526.27 186.74,526.91 186.79,527.54 186.84,528.18 186.89,528.82 186.95,529.46 187.01,530.09 187.15,530.73 187.40,531.37 187.72,532.01 188.10,532.64 188.51,533.28 188.92,533.92 189.31,534.55 189.66,535.19 189.94,535.83 190.16,536.47 190.38,537.10 190.59,537.74 190.78,538.38 190.94,539.02 191.05,539.65 191.10,540.29 191.06,540.93 190.93,541.56 190.72,542.20 190.42,542.84 190.07,543.48 189.65,544.11 189.19,544.75 188.61,545.39 187.63,546.03 186.37,546.66 185.00,547.30 163.00,547.30 161.63,546.66 160.37,546.03 159.39,545.39 158.81,544.75 158.35,544.11 157.93,543.48 157.58,542.84 157.28,542.20 157.07,541.56 156.94,540.93 156.90,540.29 156.95,539.65 157.06,539.02 157.22,538.38 157.41,537.74 157.62,537.10 157.84,536.47 158.06,535.83 158.34,535.19 158.69,534.55 159.08,533.92 159.49,533.28 159.90,532.64 160.28,532.01 160.60,531.37 160.85,530.73 160.99,530.09 161.05,529.46 161.11,528.82 161.16,528.18 161.21,527.54 161.26,526.91 161.30,526.27 161.34,525.63 161.37,524.99 161.40,524.36 161.43,523.72 161.45,523.08 161.47,522.45 161.48,521.81 161.49,521.17 161.50,520.53 161.50,519.90 161.50,519.26 161.50,518.62 161.50,517.98 161.49,517.35 161.49,516.71 161.49,516.07 161.48,515.44 161.47,514.80 161.46,514.16 161.44,513.52 161.43,512.89 161.41,512.25 161.39,511.61 161.36,510.97 161.33,510.34 161.30,509.70" fill="#9ea1bb" stroke="#4a4d5e" stroke-width="0.6" stroke-linejoin="round"/>
<line x1="174.0" y1="509.7" x2="174.0" y2="515" stroke="#333" stroke-width="0.54"/>
<line x1="174.0" y1="542.2" x2="174.0" y2="547.3" stroke="#333" stroke-width="0.54"/>
<rect x="168.1" y="515" width="11.8" height="27.200000000000045" fill="#6b7a99" stroke="#333" stroke-width="0.6"/>
<line x1="168.1" y1="533.5" x2="179.9" y2="533.5" stroke="#222" stroke-width="1.1"/>
<polygon points="225.30,542.70 224.98,542.87 224.70,543.05 224.43,543.22 224.20,543.40 223.99,543.57 223.80,543.75 223.64,543.92 223.51,544.10 223.40,544.27 223.32,544.45 223.25,544.62 223.22,544.79 223.20,544.97 223.21,545.14 223.27,545.32 223.37,545.49 223.50,545.67 223.66,545.84 223.85,546.02 224.07,546.19 224.32,546.37 224.58,546.54 224.86,546.72 225.16,546.89 225.47,547.06 225.79,547.24 226.11,547.41 226.44,547.59 226.76,547.76 227.09,547.94 227.42,548.11 227.84,548.29 228.34,548.46 228.90,548.64 229.51,548.81 230.16,548.98 230.84,549.16 231.53,549.33 232.22,549.51 232.90,549.68 233.56,549.86 234.18,550.03 234.76,550.21 235.27,550.38 235.71,550.56 236.07,550.73 236.32,550.91 236.47,551.08 236.49,551.25 236.34,551.43 236.02,551.60 235.55,551.78 234.94,551.95 234.20,552.13 233.36,552.30 232.42,552.48 231.41,552.65 230.33,552.83 229.20,553.00 209.20,553.00 208.07,552.83 206.99,552.65 205.98,552.48 205.04,552.30 204.20,552.13 203.46,551.95 202.85,551.78 202.38,551.60 202.06,551.43 201.91,551.25 201.93,551.08 202.08,550.91 202.33,550.73 202.69,550.56 203.13,550.38 203.64,550.21 204.22,550.03 204.84,549.86 205.50,549.68 206.18,549.51 206.87,549.33 207.56,549.16 208.24,548.98 208.89,548.81 209.50,548.64 210.06,548.46 210.56,548.29 210.98,548.11 211.31,547.94 211.64,547.76 211.96,547.59 212.29,547.41 212.61,547.24 212.93,547.06 213.24,546.89 213.54,546.72 213.82,546.54 214.08,546.37 214.33,546.19 214.55,546.02 214.74,545.84 214.90,545.67 215.03,545.49 215.13,545.32 215.19,545.14 215.20,544.97 215.18,544.79 215.15,544.62 215.08,544.45 215.00,544.27 214.89,544.10 214.76,543.92 214.60,543.75 214.41,543.57 214.20,543.40 213.97,543.22 213.70,543.05 213.42,542.87 213.10,542.70" fill="#9ea1bb" stroke="#4a4d5e" stroke-width="0.6" stroke-linejoin="round"/>
<line x1="219.20000000000002" y1="542.7" x2="219.20000000000002" y2="548" stroke="#333" stroke-width="0.54"/>
<line x1="219.20000000000002" y1="552" x2="219.20000000000002" y2="553" stroke="#333" stroke-width="0.54"/>
<rect x="213.20000000000002" y="548" width="12" height="4" fill="#6b7a99" stroke="#333" stroke-width="0.6"/>
<line x1="213.20000000000002" y1="550" x2="225.20000000000002" y2="550" stroke="#222" stroke-width="1.1"/>
<polygon points="279.70,554.20 280.67,554.23 281.61,554.27 282.52,554.30 283.39,554.34 284.23,554.37 285.04,554.40 285.81,554.44 286.54,554.47 287.25,554.51 287.92,554.54 288.56,554.57 289.16,554.61 289.73,554.64 290.27,554.67 290.77,554.71 291.24,554.74 291.68,554.78 292.08,554.81 292.45,554.84 292.79,554.88 293.09,554.91 293.36,554.95 293.59,554.98 293.79,555.01 293.96,555.05 294.09,555.08 294.20,555.12 294.26,555.15 294.30,555.18 294.30,555.22 294.26,555.25 294.20,555.28 294.09,555.32 293.96,555.35 293.79,555.39 293.59,555.42 293.36,555.45 293.09,555.49 292.79,555.52 292.45,555.56 292.08,555.59 291.68,555.62 291.24,555.66 290.77,555.69 290.27,555.73 289.73,555.76 289.16,555.79 288.56,555.83 287.92,555.86 287.25,555.89 286.54,555.93 285.81,555.96 285.04,556.00 284.23,556.03 283.39,556.06 282.52,556.10 281.61,556.13 280.67,556.17 279.70,556.20 274.70,556.20 273.73,556.17 272.79,556.13 271.88,556.10 271.01,556.06 270.17,556.03 269.36,556.00 268.59,555.96 267.86,555.93 267.15,555.89 266.48,555.86 265.84,555.83 265.24,555.79 264.67,555.76 264.13,555.73 263.63,555.69 263.16,555.66 262.72,555.62 262.32,555.59 261.95,555.56 261.61,555.52 261.31,555.49 261.04,555.45 260.81,555.42 260.61,555.39 260.44,555.35 260.31,555.32 260.20,555.28 260.14,555.25 260.10,555.22 260.10,555.18 260.14,555.15 260.20,555.12 260.31,555.08 260.44,555.05 260.61,555.01 260.81,554.98 261.04,554.95 261.31,554.91 261.61,554.88 261.95,554.84 262.32,554.81 262.72,554.78 263.16,554.74 263.63,554.71 264.13,554.67 264.67,554.64 265.24,554.61 265.84,554.57 266.48,554.54 267.15,554.51 267.86,554.47 268.59,554.44 269.36,554.40 270.17,554.37 271.01,554.34 271.88,554.30 272.79,554.27 273.73,554.23 274.70,554.20" fill="#9ea1bb" stroke="#2a2d40" stroke-width="0.8" stroke-linejoin="round"/>
<line x1="277.6" y1="549.2" x2="277.6" y2="553.5" stroke="#333" stroke-width="0.54"/>
<line x1="277.6" y1="556.6" x2="277.6" y2="557" stroke="#333" stroke-width="0.54"/>
<rect x="273.1" y="553.5" width="9.0" height="3.1000000000000227" fill="#6b7a99" stroke="#333" stroke-width="0.6"/>
<line x1="273.1" y1="555.2" x2="282.1" y2="555.2" stroke="#222" stroke-width="1.0"/>
<line x1="274.1" y1="549.4" x2="281.1" y2="549.4" stroke="#444" stroke-width="0.8"/>
<polygon points="339.80,552.00 339.80,552.06 339.79,552.12 339.78,552.18 339.77,552.24 339.75,552.30 339.74,552.36 339.71,552.42 339.69,552.47 339.66,552.53 339.62,552.59 339.59,552.65 339.55,552.71 339.51,552.77 339.47,552.83 339.42,552.89 339.37,552.95 339.32,553.01 339.26,553.07 339.21,553.13 339.15,553.19 339.09,553.25 339.02,553.31 338.96,553.36 338.89,553.42 338.82,553.48 338.74,553.54 338.62,553.60 338.47,553.66 338.29,553.72 338.09,553.78 337.86,553.84 337.61,553.90 337.35,553.96 337.07,554.02 336.78,554.08 336.49,554.14 336.20,554.19 335.91,554.25 335.62,554.31 335.35,554.37 335.08,554.43 334.83,554.49 334.60,554.55 334.36,554.61 334.12,554.67 333.88,554.73 333.65,554.79 333.41,554.85 333.17,554.91 332.94,554.97 332.70,555.03 332.46,555.08 332.22,555.14 331.99,555.20 331.75,555.26 331.51,555.32 331.27,555.38 331.04,555.44 330.80,555.50 314.80,555.50 314.56,555.44 314.33,555.38 314.09,555.32 313.85,555.26 313.61,555.20 313.38,555.14 313.14,555.08 312.90,555.03 312.66,554.97 312.43,554.91 312.19,554.85 311.95,554.79 311.72,554.73 311.48,554.67 311.24,554.61 311.00,554.55 310.77,554.49 310.52,554.43 310.25,554.37 309.98,554.31 309.69,554.25 309.40,554.19 309.11,554.14 308.82,554.08 308.53,554.02 308.25,553.96 307.99,553.90 307.74,553.84 307.51,553.78 307.31,553.72 307.13,553.66 306.98,553.60 306.86,553.54 306.78,553.48 306.71,553.42 306.64,553.36 306.58,553.31 306.51,553.25 306.45,553.19 306.39,553.13 306.34,553.07 306.28,553.01 306.23,552.95 306.18,552.89 306.13,552.83 306.09,552.77 306.05,552.71 306.01,552.65 305.98,552.59 305.94,552.53 305.91,552.47 305.89,552.42 305.86,552.36 305.85,552.30 305.83,552.24 305.82,552.18 305.81,552.12 305.80,552.06 305.80,552.00" fill="#9ea1bb" stroke="#4a4d5e" stroke-width="0.6" stroke-linejoin="round"/>
<rect x="317.8" y="552.5" width="10" height="2.5" fill="#6b7a99" stroke="#333" stroke-width="0.6"/>
<line x1="317.8" y1="553.5" x2="327.8" y2="553.5" stroke="#222" stroke-width="1.0"/>
<polygon points="390.40,541.00 390.46,541.24 390.54,541.49 390.62,541.73 390.72,541.98 390.82,542.22 390.93,542.46 391.05,542.71 391.18,542.95 391.32,543.20 391.46,543.44 391.60,543.68 391.76,543.93 391.92,544.17 392.13,544.42 392.37,544.66 392.64,544.91 392.95,545.15 393.27,545.39 393.62,545.64 393.98,545.88 394.35,546.13 394.73,546.37 395.11,546.61 395.48,546.86 395.85,547.10 396.20,547.35 396.54,547.59 396.86,547.83 397.15,548.08 397.41,548.32 397.63,548.57 397.82,548.81 397.96,549.05 398.06,549.30 398.10,549.54 398.06,549.79 397.91,550.03 397.66,550.27 397.33,550.52 396.94,550.76 396.51,551.01 396.07,551.25 395.62,551.49 395.20,551.74 394.82,551.98 394.48,552.23 394.13,552.47 393.78,552.72 393.43,552.96 393.07,553.20 392.72,553.45 392.36,553.69 392.00,553.94 391.64,554.18 391.27,554.42 390.91,554.67 390.54,554.91 390.17,555.16 389.80,555.40 371.80,555.40 371.43,555.16 371.06,554.91 370.69,554.67 370.33,554.42 369.96,554.18 369.60,553.94 369.24,553.69 368.88,553.45 368.53,553.20 368.17,552.96 367.82,552.72 367.47,552.47 367.12,552.23 366.78,551.98 366.40,551.74 365.98,551.49 365.53,551.25 365.09,551.01 364.66,550.76 364.27,550.52 363.94,550.27 363.69,550.03 363.54,549.79 363.50,549.54 363.54,549.30 363.64,549.05 363.78,548.81 363.97,548.57 364.19,548.32 364.45,548.08 364.74,547.83 365.06,547.59 365.40,547.35 365.75,547.10 366.12,546.86 366.49,546.61 366.87,546.37 367.25,546.13 367.62,545.88 367.98,545.64 368.33,545.39 368.65,545.15 368.96,544.91 369.23,544.66 369.47,544.42 369.68,544.17 369.84,543.93 370.00,543.68 370.14,543.44 370.28,543.20 370.42,542.95 370.55,542.71 370.67,542.46 370.78,542.22 370.88,541.98 370.98,541.73 371.06,541.49 371.14,541.24 371.20,541.00" fill="#9ea1bb" stroke="#4a4d5e" stroke-width="0.6" stroke-linejoin="round"/>
<line x1="380.8" y1="541" x2="380.8" y2="545.7" stroke="#333" stroke-width="0.54"/>
<line x1="380.8" y1="551.2" x2="380.8" y2="555.4" stroke="#333" stroke-width="0.54"/>
<rect x="375.05" y="545.7" width="11.5" height="5.5" fill="#6b7a99" stroke="#333" stroke-width="0.6"/>
<line x1="375.05" y1="548" x2="386.55" y2="548" stroke="#222" stroke-width="1.1"/>
<polygon points="442.90,552.60 442.90,555.80 409.10,555.80 409.10,552.60" fill="#9ea1bb" stroke="#4a4d5e" stroke-width="0.6" stroke-linejoin="round"/>
<rect x="421.0" y="553.5" width="10" height="1.5" fill="#6b7a99" stroke="#333" stroke-width="0.6"/>
<line x1="421.0" y1="554.2" x2="431.0" y2="554.2" stroke="#222" stroke-width="1.0"/>
<polygon points="74.95,577.30 75.24,578.44 75.54,579.59 75.87,580.73 76.20,581.88 76.56,583.02 76.92,584.16 77.30,585.31 77.71,586.45 78.15,587.60 78.60,588.74 79.07,589.88 79.55,591.03 80.03,592.17 80.51,593.32 80.98,594.46 81.45,595.61 81.93,596.75 82.44,597.89 82.94,599.04 83.45,600.18 83.93,601.33 84.38,602.47 84.78,603.61 85.13,604.76 85.44,605.90 85.74,607.05 86.03,608.19 86.30,609.33 86.55,610.48 86.77,611.62 86.96,612.77 87.11,613.91 87.20,615.05 87.28,616.20 87.34,617.34 87.40,618.49 87.45,619.63 87.48,620.77 87.50,621.92 87.48,623.06 87.36,624.21 87.15,625.35 86.88,626.49 86.56,627.64 86.21,628.78 85.85,629.93 85.48,631.07 85.14,632.22 84.76,633.36 84.35,634.50 83.90,635.65 83.44,636.79 82.98,637.94 82.54,639.08 82.12,640.22 81.73,641.37 81.34,642.51 80.97,643.66 80.60,644.80 59.80,644.80 59.43,643.66 59.06,642.51 58.67,641.37 58.28,640.22 57.86,639.08 57.42,637.94 56.96,636.79 56.50,635.65 56.05,634.50 55.64,633.36 55.26,632.22 54.92,631.07 54.55,629.93 54.19,628.78 53.84,627.64 53.52,626.49 53.25,625.35 53.04,624.21 52.92,623.06 52.90,621.92 52.92,620.77 52.95,619.63 53.00,618.49 53.06,617.34 53.12,616.20 53.20,615.05 53.29,613.91 53.44,612.77 53.63,611.62 53.85,610.48 54.10,609.33 54.37,608.19 54.66,607.05 54.96,605.90 55.27,604.76 55.62,603.61 56.02,602.47 56.47,601.33 56.95,600.18 57.46,599.04 57.96,597.89 58.47,596.75 58.95,595.61 59.42,594.46 59.89,593.32 60.37,592.17 60.85,591.03 61.33,589.88 61.80,588.74 62.25,587.60 62.69,586.45 63.10,585.31 63.48,584.16 63.84,583.02 64.20,581.88 64.53,580.73 64.86,579.59 65.16,578.44 65.45,577.30" fill="#9ea1bb" stroke="#4a4d5e" stroke-width="0.6" stroke-linejoin="round"/>
<line x1="70.2" y1="577.3" x2="70.2" y2="605.9" stroke="#333" stroke-width="0.54"/>
<line x1="70.2" y1="632.7" x2="70.2" y2="644.8" stroke="#333" stroke-width="0.54"/>
<rect x="63.85" y="605.9" width="12.7" height="26.800000000000068" fill="#6b7a99" stroke="#333" stroke-width="0.6"/>
<line x1="63.85" y1="618.5" x2="76.55" y2="618.5" stroke="#222" stroke-width="1.1"/>
<polygon points="124.20,606.90 124.26,607.85 124.34,608.79 124.44,609.74 124.54,610.68 124.65,611.63 124.77,612.57 124.90,613.52 125.04,614.47 125.20,615.41 125.39,616.36 125.62,617.30 125.94,618.25 126.46,619.19 127.10,620.14 127.78,621.09 128.42,622.03 129.07,622.98 129.76,623.92 130.45,624.87 131.07,625.82 131.59,626.76 132.01,627.71 132.42,628.65 132.77,629.60 133.02,630.54 133.10,631.49 132.87,632.44 132.34,633.38 131.65,634.33 130.91,635.27 130.26,636.22 129.64,637.16 129.01,638.11 128.35,639.06 127.65,640.00 126.91,640.95 126.08,641.89 125.13,642.84 124.12,643.78 123.12,644.73 122.19,645.68 121.31,646.62 120.34,647.57 119.46,648.51 118.90,649.46 118.81,650.41 118.87,651.35 118.98,652.30 119.12,653.24 119.27,654.19 119.42,655.13 119.57,656.08 119.74,657.03 119.91,657.97 120.11,658.92 120.31,659.86 120.53,660.81 120.76,661.75 121.00,662.70 110.80,662.70 111.04,661.75 111.27,660.81 111.49,659.86 111.69,658.92 111.89,657.97 112.06,657.03 112.23,656.08 112.38,655.13 112.53,654.19 112.68,653.24 112.82,652.30 112.93,651.35 112.99,650.41 112.90,649.46 112.34,648.51 111.46,647.57 110.49,646.62 109.61,645.68 108.68,644.73 107.68,643.78 106.67,642.84 105.72,641.89 104.89,640.95 104.15,640.00 103.45,639.06 102.79,638.11 102.16,637.16 101.54,636.22 100.89,635.27 100.15,634.33 99.46,633.38 98.93,632.44 98.70,631.49 98.78,630.54 99.03,629.60 99.38,628.65 99.79,627.71 100.21,626.76 100.73,625.82 101.35,624.87 102.04,623.92 102.73,622.98 103.38,622.03 104.02,621.09 104.70,620.14 105.34,619.19 105.86,618.25 106.18,617.30 106.41,616.36 106.60,615.41 106.76,614.47 106.90,613.52 107.03,612.57 107.15,611.63 107.26,610.68 107.36,609.74 107.46,608.79 107.54,607.85 107.60,606.90" fill="#9ea1bb" stroke="#4a4d5e" stroke-width="0.6" stroke-linejoin="round"/>
<line x1="115.9" y1="606.9" x2="115.9" y2="620.1" stroke="#333" stroke-width="0.54"/>
<line x1="115.9" y1="634.8" x2="115.9" y2="638.5" stroke="#333" stroke-width="0.54"/>
<rect x="110.0" y="620.1" width="11.8" height="14.699999999999932" fill="#6b7a99" stroke="#333" stroke-width="0.6"/>
<line x1="110.0" y1="631.6" x2="121.80000000000001" y2="631.6" stroke="#222" stroke-width="1.1"/>
<polygon points="184.50,600.50 185.67,601.22 186.73,601.94 187.63,602.66 188.37,603.37 189.06,604.09 189.67,604.81 190.12,605.53 190.37,606.25 190.55,606.97 190.70,607.69 190.82,608.41 190.89,609.12 190.89,609.84 190.72,610.56 190.41,611.28 190.02,612.00 189.64,612.72 189.29,613.44 188.91,614.15 188.51,614.87 188.10,615.59 187.69,616.31 187.29,617.03 186.92,617.75 186.59,618.47 186.27,619.18 185.97,619.90 185.67,620.62 185.39,621.34 185.12,622.06 184.86,622.78 184.60,623.50 184.34,624.22 184.09,624.93 183.86,625.65 183.66,626.37 183.48,627.09 183.32,627.81 183.16,628.53 183.01,629.25 182.88,629.96 182.78,630.68 182.71,631.40 182.67,632.12 182.64,632.84 182.61,633.56 182.58,634.28 182.55,634.99 182.52,635.71 182.50,636.43 182.48,637.15 182.46,637.87 182.45,638.59 182.43,639.31 182.42,640.03 182.41,640.74 182.41,641.46 182.40,642.18 182.40,642.90 165.60,642.90 165.60,642.18 165.59,641.46 165.59,640.74 165.58,640.03 165.57,639.31 165.55,638.59 165.54,637.87 165.52,637.15 165.50,636.43 165.48,635.71 165.45,634.99 165.42,634.28 165.39,633.56 165.36,632.84 165.33,632.12 165.29,631.40 165.22,630.68 165.12,629.96 164.99,629.25 164.84,628.53 164.68,627.81 164.52,627.09 164.34,626.37 164.14,625.65 163.91,624.93 163.66,624.22 163.40,623.50 163.14,622.78 162.88,622.06 162.61,621.34 162.33,620.62 162.03,619.90 161.73,619.18 161.41,618.47 161.08,617.75 160.71,617.03 160.31,616.31 159.90,615.59 159.49,614.87 159.09,614.15 158.71,613.44 158.36,612.72 157.98,612.00 157.59,611.28 157.28,610.56 157.11,609.84 157.11,609.12 157.18,608.41 157.30,607.69 157.45,606.97 157.63,606.25 157.88,605.53 158.33,604.81 158.94,604.09 159.63,603.37 160.37,602.66 161.27,601.94 162.33,601.22 163.50,600.50" fill="#9ea1bb" stroke="#4a4d5e" stroke-width="0.6" stroke-linejoin="round"/>
<line x1="174.0" y1="600.8" x2="174.0" y2="606.5" stroke="#333" stroke-width="0.54"/>
<line x1="174.0" y1="628.5" x2="174.0" y2="643.5" stroke="#333" stroke-width="0.54"/>
<rect x="168.25" y="606.5" width="11.5" height="22.0" fill="#6b7a99" stroke="#333" stroke-width="0.6"/>
<line x1="168.25" y1="614.2" x2="179.75" y2="614.2" stroke="#222" stroke-width="1.1"/>
<polygon points="226.50,608.20 226.94,608.96 227.39,609.72 227.87,610.48 228.36,611.24 228.88,612.01 229.41,612.77 229.96,613.53 230.51,614.29 231.06,615.05 231.63,615.81 232.23,616.57 232.83,617.33 233.42,618.09 233.98,618.85 234.48,619.62 234.91,620.38 235.37,621.14 235.81,621.90 236.19,622.66 236.47,623.42 236.60,624.18 236.54,624.94 236.34,625.70 236.04,626.46 235.66,627.23 235.25,627.99 234.83,628.75 234.42,629.51 233.92,630.27 233.36,631.03 232.77,631.79 232.18,632.55 231.63,633.31 231.16,634.07 230.75,634.84 230.39,635.60 230.03,636.36 229.67,637.12 229.27,637.88 228.73,638.64 228.06,639.40 227.54,640.16 227.40,640.92 227.44,641.68 227.51,642.45 227.59,643.21 227.69,643.97 227.77,644.73 227.84,645.49 227.91,646.25 227.98,647.01 228.05,647.77 228.11,648.53 228.18,649.29 228.24,650.06 228.31,650.82 228.37,651.58 228.44,652.34 228.50,653.10 209.90,653.10 209.96,652.34 210.03,651.58 210.09,650.82 210.16,650.06 210.22,649.29 210.29,648.53 210.35,647.77 210.42,647.01 210.49,646.25 210.56,645.49 210.63,644.73 210.71,643.97 210.81,643.21 210.89,642.45 210.96,641.68 211.00,640.92 210.86,640.16 210.34,639.40 209.67,638.64 209.13,637.88 208.73,637.12 208.37,636.36 208.01,635.60 207.65,634.84 207.24,634.07 206.77,633.31 206.22,632.55 205.63,631.79 205.04,631.03 204.48,630.27 203.98,629.51 203.57,628.75 203.15,627.99 202.74,627.23 202.36,626.46 202.06,625.70 201.86,624.94 201.80,624.18 201.93,623.42 202.21,622.66 202.59,621.90 203.03,621.14 203.49,620.38 203.92,619.62 204.42,618.85 204.98,618.09 205.57,617.33 206.17,616.57 206.77,615.81 207.34,615.05 207.89,614.29 208.44,613.53 208.99,612.77 209.52,612.01 210.04,611.24 210.53,610.48 211.01,609.72 211.46,608.96 211.90,608.20" fill="#9ea1bb" stroke="#4a4d5e" stroke-width="0.6" stroke-linejoin="round"/>
<line x1="219.20000000000002" y1="608.4" x2="219.20000000000002" y2="623.8" stroke="#333" stroke-width="0.54"/>
<line x1="219.20000000000002" y1="640.7" x2="219.20000000000002" y2="653.2" stroke="#333" stroke-width="0.54"/>
<rect x="213.20000000000002" y="623.8" width="12" height="16.90000000000009" fill="#6b7a99" stroke="#333" stroke-width="0.6"/>
<line x1="213.20000000000002" y1="625.5" x2="225.20000000000002" y2="625.5" stroke="#222" stroke-width="1.1"/>
<polygon points="285.40,652.50 285.59,652.78 285.77,653.07 285.95,653.35 286.11,653.63 286.25,653.92 286.38,654.20 286.48,654.48 286.56,654.76 286.61,655.05 286.63,655.33 286.66,655.61 286.67,655.90 286.69,656.18 286.70,656.46 286.71,656.75 286.72,657.03 286.74,657.31 286.76,657.59 286.79,657.88 286.83,658.16 286.90,658.44 287.01,658.73 287.15,659.01 287.31,659.29 287.50,659.58 287.70,659.86 287.92,660.14 288.14,660.43 288.37,660.71 288.59,660.99 288.84,661.27 289.12,661.56 289.44,661.84 289.78,662.12 290.14,662.41 290.51,662.69 290.88,662.97 291.24,663.26 291.59,663.54 291.91,663.82 292.21,664.11 292.53,664.39 292.88,664.67 293.22,664.95 293.56,665.24 293.86,665.52 294.11,665.80 294.29,666.09 294.39,666.37 294.39,666.65 294.33,666.94 294.21,667.22 294.02,667.50 293.76,667.78 293.43,668.07 293.02,668.35 292.52,668.63 290.55,668.92 287.60,669.20 267.60,669.20 264.65,668.92 262.68,668.63 262.18,668.35 261.77,668.07 261.44,667.78 261.18,667.50 260.99,667.22 260.87,666.94 260.81,666.65 260.81,666.37 260.91,666.09 261.09,665.80 261.34,665.52 261.64,665.24 261.98,664.95 262.32,664.67 262.67,664.39 262.99,664.11 263.29,663.82 263.61,663.54 263.96,663.26 264.32,662.97 264.69,662.69 265.06,662.41 265.42,662.12 265.76,661.84 266.08,661.56 266.36,661.27 266.61,660.99 266.83,660.71 267.06,660.43 267.28,660.14 267.50,659.86 267.70,659.58 267.89,659.29 268.05,659.01 268.19,658.73 268.30,658.44 268.37,658.16 268.41,657.88 268.44,657.59 268.46,657.31 268.48,657.03 268.49,656.75 268.50,656.46 268.51,656.18 268.53,655.90 268.54,655.61 268.57,655.33 268.59,655.05 268.64,654.76 268.72,654.48 268.82,654.20 268.95,653.92 269.09,653.63 269.25,653.35 269.43,653.07 269.61,652.78 269.80,652.50" fill="#9ea1bb" stroke="#4a4d5e" stroke-width="0.6" stroke-linejoin="round"/>
<line x1="277.6" y1="652.5" x2="277.6" y2="658.2" stroke="#333" stroke-width="0.54"/>
<line x1="277.6" y1="667.7" x2="277.6" y2="669" stroke="#333" stroke-width="0.54"/>
<rect x="272.0" y="658.2" width="11.2" height="9.5" fill="#6b7a99" stroke="#333" stroke-width="0.6"/>
<line x1="272.0" y1="666.5" x2="283.20000000000005" y2="666.5" stroke="#222" stroke-width="1.0"/>
<polygon points="330.60,661.60 330.60,661.73 330.61,661.86 330.62,661.99 330.63,662.12 330.65,662.25 330.67,662.38 330.69,662.51 330.72,662.64 330.75,662.77 330.78,662.91 330.81,663.04 330.87,663.17 330.97,663.30 331.11,663.43 331.26,663.56 331.45,663.69 331.64,663.82 331.86,663.95 332.08,664.08 332.30,664.21 332.53,664.34 332.75,664.47 332.98,664.60 333.23,664.73 333.50,664.86 333.79,664.99 334.10,665.12 334.42,665.25 334.74,665.38 335.07,665.52 335.40,665.65 335.73,665.78 336.05,665.91 336.35,666.04 336.65,666.17 336.92,666.30 337.17,666.43 337.40,666.56 337.64,666.69 337.88,666.82 338.13,666.95 338.38,667.08 338.62,667.21 338.86,667.34 339.09,667.47 339.30,667.60 339.49,667.73 339.67,667.86 339.82,667.99 339.94,668.13 340.03,668.26 340.08,668.39 340.10,668.52 339.82,668.65 339.19,668.78 338.28,668.91 337.18,669.04 335.99,669.17 334.80,669.30 310.80,669.30 309.61,669.17 308.42,669.04 307.32,668.91 306.41,668.78 305.78,668.65 305.50,668.52 305.52,668.39 305.57,668.26 305.66,668.13 305.78,667.99 305.93,667.86 306.11,667.73 306.30,667.60 306.51,667.47 306.74,667.34 306.98,667.21 307.22,667.08 307.47,666.95 307.72,666.82 307.96,666.69 308.20,666.56 308.43,666.43 308.68,666.30 308.95,666.17 309.25,666.04 309.55,665.91 309.87,665.78 310.20,665.65 310.53,665.52 310.86,665.38 311.18,665.25 311.50,665.12 311.81,664.99 312.10,664.86 312.37,664.73 312.62,664.60 312.85,664.47 313.07,664.34 313.30,664.21 313.52,664.08 313.74,663.95 313.96,663.82 314.15,663.69 314.34,663.56 314.49,663.43 314.63,663.30 314.73,663.17 314.79,663.04 314.82,662.91 314.85,662.77 314.88,662.64 314.91,662.51 314.93,662.38 314.95,662.25 314.97,662.12 314.98,661.99 314.99,661.86 315.00,661.73 315.00,661.60" fill="#9ea1bb" stroke="#4a4d5e" stroke-width="0.6" stroke-linejoin="round"/>
<rect x="316.8" y="662" width="12" height="5.7000000000000455" fill="#6b7a99" stroke="#333" stroke-width="0.6"/>
<line x1="316.8" y1="666" x2="328.8" y2="666" stroke="#222" stroke-width="1.0"/>
<polygon points="384.50,647.30 384.60,647.67 384.74,648.04 384.90,648.41 385.08,648.78 385.28,649.16 385.50,649.53 385.73,649.90 385.99,650.27 386.28,650.64 386.61,651.01 386.97,651.38 387.36,651.75 387.77,652.13 388.20,652.50 388.64,652.87 389.10,653.24 389.62,653.61 390.18,653.98 390.77,654.35 391.37,654.72 391.97,655.09 392.54,655.47 393.08,655.84 393.57,656.21 394.06,656.58 394.53,656.95 395.00,657.32 395.44,657.69 395.87,658.06 396.26,658.44 396.63,658.81 396.96,659.18 397.31,659.55 397.66,659.92 398.00,660.29 398.31,660.66 398.57,661.03 398.77,661.41 398.88,661.78 398.90,662.15 398.87,662.52 398.81,662.89 398.73,663.26 398.62,663.63 398.49,664.00 398.34,664.37 398.18,664.75 398.00,665.12 397.81,665.49 397.55,665.86 397.18,666.23 396.71,666.60 396.16,666.97 395.53,667.34 394.85,667.72 394.12,668.09 393.18,668.46 392.04,668.83 390.80,669.20 372.80,669.20 371.56,668.83 370.42,668.46 369.48,668.09 368.75,667.72 368.07,667.34 367.44,666.97 366.89,666.60 366.42,666.23 366.05,665.86 365.79,665.49 365.60,665.12 365.42,664.75 365.26,664.37 365.11,664.00 364.98,663.63 364.87,663.26 364.79,662.89 364.73,662.52 364.70,662.15 364.72,661.78 364.83,661.41 365.03,661.03 365.29,660.66 365.60,660.29 365.94,659.92 366.29,659.55 366.64,659.18 366.97,658.81 367.34,658.44 367.73,658.06 368.16,657.69 368.60,657.32 369.07,656.95 369.54,656.58 370.03,656.21 370.52,655.84 371.06,655.47 371.63,655.09 372.23,654.72 372.83,654.35 373.42,653.98 373.98,653.61 374.50,653.24 374.96,652.87 375.40,652.50 375.83,652.13 376.24,651.75 376.63,651.38 376.99,651.01 377.32,650.64 377.61,650.27 377.87,649.90 378.10,649.53 378.32,649.16 378.52,648.78 378.70,648.41 378.86,648.04 379.00,647.67 379.10,647.30" fill="#9ea1bb" stroke="#4a4d5e" stroke-width="0.6" stroke-linejoin="round"/>
<line x1="381.8" y1="647.3" x2="381.8" y2="657.4" stroke="#333" stroke-width="0.54"/>
<line x1="381.8" y1="665.6" x2="381.8" y2="669" stroke="#333" stroke-width="0.54"/>
<rect x="375.7" y="657.4" width="12.2" height="8.200000000000045" fill="#6b7a99" stroke="#333" stroke-width="0.6"/>
<line x1="375.7" y1="661.5" x2="387.90000000000003" y2="661.5" stroke="#222" stroke-width="1.0"/>
<polygon points="433.50,658.30 433.50,658.49 433.50,658.67 433.51,658.86 433.51,659.05 433.52,659.23 433.53,659.42 433.55,659.61 433.56,659.79 433.58,659.98 433.59,660.16 433.61,660.35 433.64,660.54 433.66,660.72 433.69,660.91 433.71,661.10 433.74,661.28 433.78,661.47 433.82,661.66 433.94,661.84 434.15,662.03 434.44,662.22 434.78,662.40 435.16,662.59 435.56,662.77 435.97,662.96 436.36,663.15 436.72,663.33 437.03,663.52 437.32,663.71 437.60,663.89 437.88,664.08 438.16,664.27 438.43,664.45 438.70,664.64 438.96,664.83 439.22,665.01 439.48,665.20 439.73,665.38 439.97,665.57 440.20,665.76 440.43,665.94 440.66,666.13 440.90,666.32 441.15,666.50 441.41,666.69 441.67,666.88 441.92,667.06 442.17,667.25 442.41,667.44 442.63,667.62 442.84,667.81 443.02,667.99 443.16,668.18 443.28,668.37 443.36,668.55 443.40,668.74 443.15,668.93 442.17,669.11 441.00,669.30 411.00,669.30 409.83,669.11 408.85,668.93 408.60,668.74 408.64,668.55 408.72,668.37 408.84,668.18 408.98,667.99 409.16,667.81 409.37,667.62 409.59,667.44 409.83,667.25 410.08,667.06 410.33,666.88 410.59,666.69 410.85,666.50 411.10,666.32 411.34,666.13 411.57,665.94 411.80,665.76 412.03,665.57 412.27,665.38 412.52,665.20 412.78,665.01 413.04,664.83 413.30,664.64 413.57,664.45 413.84,664.27 414.12,664.08 414.40,663.89 414.68,663.71 414.97,663.52 415.28,663.33 415.64,663.15 416.03,662.96 416.44,662.77 416.84,662.59 417.22,662.40 417.56,662.22 417.85,662.03 418.06,661.84 418.18,661.66 418.22,661.47 418.26,661.28 418.29,661.10 418.31,660.91 418.34,660.72 418.36,660.54 418.39,660.35 418.41,660.16 418.42,659.98 418.44,659.79 418.45,659.61 418.47,659.42 418.48,659.23 418.49,659.05 418.49,658.86 418.50,658.67 418.50,658.49 418.50,658.30" fill="#9ea1bb" stroke="#4a4d5e" stroke-width="0.6" stroke-linejoin="round"/>
<line x1="426.0" y1="658.3" x2="426.0" y2="659.2" stroke="#333" stroke-width="0.54"/>
<line x1="426.0" y1="668.3" x2="426.0" y2="669.3" stroke="#333" stroke-width="0.54"/>
<rect x="420.1" y="659.2" width="11.8" height="9.099999999999909" fill="#6b7a99" stroke="#333" stroke-width="0.6"/>
<line x1="420.1" y1="664" x2="431.9" y2="664" stroke="#222" stroke-width="1.0"/>
<circle cx="69" cy="407" r="0.7" fill="#5a2020" fill-opacity="0.8"/>
<circle cx="72" cy="420" r="0.7" fill="#5a2020" fill-opacity="0.8"/>
<circle cx="74" cy="457" r="0.7" fill="#5a2020" fill-opacity="0.8"/>
<circle cx="69" cy="476" r="0.7" fill="#5a2020" fill-opacity="0.8"/>
<circle cx="72" cy="487" r="0.7" fill="#5a2020" fill-opacity="0.8"/>
<circle cx="69" cy="489" r="0.7" fill="#5a2020" fill-opacity="0.8"/>
<circle cx="116" cy="435" r="0.7" fill="#5a2020" fill-opacity="0.8"/>
<circle cx="119" cy="452" r="0.7" fill="#5a2020" fill-opacity="0.8"/>
<circle cx="116" cy="469" r="0.7" fill="#5a2020" fill-opacity="0.8"/>
<circle cx="112" cy="489" r="0.7" fill="#5a2020" fill-opacity="0.8"/>
<circle cx="120" cy="489" r="0.7" fill="#5a2020" fill-opacity="0.8"/>
<circle cx="172" cy="393" r="0.7" fill="#5a2020" fill-opacity="0.8"/>
<circle cx="174" cy="412" r="0.7" fill="#5a2020" fill-opacity="0.8"/>
<circle cx="175" cy="438" r="0.7" fill="#5a2020" fill-opacity="0.8"/>
<circle cx="173" cy="465" r="0.7" fill="#5a2020" fill-opacity="0.8"/>
<circle cx="174" cy="472" r="0.7" fill="#5a2020" fill-opacity="0.8"/>
<circle cx="220" cy="470" r="0.7" fill="#5a2020" fill-opacity="0.8"/>
<circle cx="218" cy="476" r="0.7" fill="#5a2020" fill-opacity="0.8"/>
<circle cx="221" cy="479" r="0.7" fill="#5a2020" fill-opacity="0.8"/>
<circle cx="276" cy="443" r="0.7" fill="#5a2020" fill-opacity="0.8"/>
<circle cx="279" cy="456" r="0.7" fill="#5a2020" fill-opacity="0.8"/>
<circle cx="281" cy="467" r="0.7" fill="#5a2020" fill-opacity="0.8"/>
<circle cx="277" cy="476" r="0.7" fill="#5a2020" fill-opacity="0.8"/>
<circle cx="279" cy="484" r="0.7" fill="#5a2020" fill-opacity="0.8"/>
<circle cx="276" cy="489" r="0.7" fill="#5a2020" fill-opacity="0.8"/>
<circle cx="323" cy="460" r="0.7" fill="#5a2020" fill-opacity="0.8"/>
<circle cx="324" cy="476" r="0.7" fill="#5a2020" fill-opacity="0.8"/>
<circle cx="321" cy="484" r="0.7" fill="#5a2020" fill-opacity="0.8"/>
<circle cx="322" cy="488" r="0.7" fill="#5a2020" fill-opacity="0.8"/>
<circle cx="380" cy="449" r="0.7" fill="#5a2020" fill-opacity="0.8"/>
<circle cx="383" cy="455" r="0.7" fill="#5a2020" fill-opacity="0.8"/>
<circle cx="385" cy="466" r="0.7" fill="#5a2020" fill-opacity="0.8"/>
<circle cx="379" cy="488" r="0.7" fill="#5a2020" fill-opacity="0.8"/>
<circle cx="382" cy="488" r="0.7" fill="#5a2020" fill-opacity="0.8"/>
<circle cx="426" cy="487" r="0.7" fill="#5a2020" fill-opacity="0.8"/>
<circle cx="423" cy="489" r="0.7" fill="#5a2020" fill-opacity="0.8"/>
<circle cx="428" cy="490" r="0.7" fill="#5a2020" fill-opacity="0.8"/>
<circle cx="69" cy="526" r="0.65" fill="#2a3040" fill-opacity="0.8"/>
<circle cx="71" cy="533" r="0.65" fill="#2a3040" fill-opacity="0.8"/>
<circle cx="73" cy="540" r="0.65" fill="#2a3040" fill-opacity="0.8"/>
<circle cx="71" cy="546" r="0.65" fill="#2a3040" fill-opacity="0.8"/>
<circle cx="70" cy="553" r="0.65" fill="#2a3040" fill-opacity="0.8"/>
<circle cx="116" cy="508" r="0.65" fill="#2a3040" fill-opacity="0.8"/>
<circle cx="114" cy="526" r="0.65" fill="#2a3040" fill-opacity="0.8"/>
<circle cx="120" cy="531" r="0.65" fill="#2a3040" fill-opacity="0.8"/>
<circle cx="117" cy="545" r="0.65" fill="#2a3040" fill-opacity="0.8"/>
<circle cx="174" cy="510" r="0.65" fill="#2a3040" fill-opacity="0.8"/>
<circle cx="176" cy="522" r="0.65" fill="#2a3040" fill-opacity="0.8"/>
<circle cx="172" cy="537" r="0.65" fill="#2a3040" fill-opacity="0.8"/>
<circle cx="174" cy="546" r="0.65" fill="#2a3040" fill-opacity="0.8"/>
<circle cx="220" cy="543" r="0.65" fill="#2a3040" fill-opacity="0.8"/>
<circle cx="218" cy="551" r="0.65" fill="#2a3040" fill-opacity="0.8"/>
<circle cx="277" cy="549" r="0.65" fill="#2a3040" fill-opacity="0.8"/>
<circle cx="279" cy="554" r="0.65" fill="#2a3040" fill-opacity="0.8"/>
<circle cx="276" cy="556" r="0.65" fill="#2a3040" fill-opacity="0.8"/>
<circle cx="323" cy="552" r="0.65" fill="#2a3040" fill-opacity="0.8"/>
<circle cx="382" cy="542" r="0.65" fill="#2a3040" fill-opacity="0.8"/>
<circle cx="378" cy="547" r="0.65" fill="#2a3040" fill-opacity="0.8"/>
<circle cx="381" cy="551" r="0.65" fill="#2a3040" fill-opacity="0.8"/>
<circle cx="70" cy="578" r="0.65" fill="#2a3040" fill-opacity="0.8"/>
<circle cx="68" cy="597" r="0.65" fill="#2a3040" fill-opacity="0.8"/>
<circle cx="67" cy="605" r="0.65" fill="#2a3040" fill-opacity="0.8"/>
<circle cx="73" cy="612" r="0.65" fill="#2a3040" fill-opacity="0.8"/>
<circle cx="72" cy="621" r="0.65" fill="#2a3040" fill-opacity="0.8"/>
<circle cx="69" cy="631" r="0.65" fill="#2a3040" fill-opacity="0.8"/>
<circle cx="72" cy="637" r="0.65" fill="#2a3040" fill-opacity="0.8"/>
<circle cx="67" cy="641" r="0.65" fill="#2a3040" fill-opacity="0.8"/>
<circle cx="69" cy="644" r="0.65" fill="#2a3040" fill-opacity="0.8"/>
<circle cx="117" cy="607" r="0.65" fill="#2a3040" fill-opacity="0.8"/>
<circle cx="120" cy="617" r="0.65" fill="#2a3040" fill-opacity="0.8"/>
<circle cx="118" cy="627" r="0.65" fill="#2a3040" fill-opacity="0.8"/>
<circle cx="116" cy="635" r="0.65" fill="#2a3040" fill-opacity="0.8"/>
<circle cx="118" cy="663" r="0.65" fill="#2a3040" fill-opacity="0.8"/>
<circle cx="174" cy="601" r="0.65" fill="#2a3040" fill-opacity="0.8"/>
<circle cx="170" cy="610" r="0.65" fill="#2a3040" fill-opacity="0.8"/>
<circle cx="176" cy="613" r="0.65" fill="#2a3040" fill-opacity="0.8"/>
<circle cx="173" cy="628" r="0.65" fill="#2a3040" fill-opacity="0.8"/>
<circle cx="174" cy="643" r="0.65" fill="#2a3040" fill-opacity="0.8"/>
<circle cx="219" cy="609" r="0.65" fill="#2a3040" fill-opacity="0.8"/>
<circle cx="222" cy="620" r="0.65" fill="#2a3040" fill-opacity="0.8"/>
<circle cx="221" cy="630" r="0.65" fill="#2a3040" fill-opacity="0.8"/>
<circle cx="219" cy="645" r="0.65" fill="#2a3040" fill-opacity="0.8"/>
<circle cx="278" cy="653" r="0.65" fill="#2a3040" fill-opacity="0.8"/>
<circle cx="281" cy="659" r="0.65" fill="#2a3040" fill-opacity="0.8"/>
<circle cx="276" cy="666" r="0.65" fill="#2a3040" fill-opacity="0.8"/>
<circle cx="322" cy="662" r="0.65" fill="#2a3040" fill-opacity="0.8"/>
<circle cx="326" cy="665" r="0.65" fill="#2a3040" fill-opacity="0.8"/>
<circle cx="381" cy="648" r="0.65" fill="#2a3040" fill-opacity="0.8"/>
<circle cx="383" cy="659" r="0.65" fill="#2a3040" fill-opacity="0.8"/>
<circle cx="378" cy="666" r="0.65" fill="#2a3040" fill-opacity="0.8"/>
<circle cx="425" cy="660" r="0.65" fill="#2a3040" fill-opacity="0.8"/>
<circle cx="428" cy="664" r="0.65" fill="#2a3040" fill-opacity="0.8"/>
<circle cx="424" cy="668" r="0.65" fill="#2a3040" fill-opacity="0.8"/>
<rect x="43.5" y="375.6" width="100.0" height="11.699999999999989" fill="#c6c2c2" stroke="#1e1e1e" stroke-width="1.3"/>
<text x="93.5" y="383.95000000000005" font-size="7.3" text-anchor="middle" fill="#1a1a1a" stroke="#1a1a1a" stroke-width="0.03" textLength="11.77" lengthAdjust="spacingAndGlyphs">ifng</text>
<rect x="146.8" y="375.6" width="100.0" height="11.699999999999989" fill="#c6c2c2" stroke="#1e1e1e" stroke-width="1.3"/>
<text x="196.8" y="383.95000000000005" font-size="7.3" text-anchor="middle" fill="#1a1a1a" stroke="#1a1a1a" stroke-width="0.03" textLength="15.42" lengthAdjust="spacingAndGlyphs">il17a</text>
<rect x="250.4" y="375.6" width="100.1" height="11.699999999999989" fill="#c6c2c2" stroke="#1e1e1e" stroke-width="1.3"/>
<text x="300.45" y="383.95000000000005" font-size="7.3" text-anchor="middle" fill="#1a1a1a" stroke="#1a1a1a" stroke-width="0.03" textLength="7.3" lengthAdjust="spacingAndGlyphs">il4</text>
<rect x="353.6" y="375.6" width="99.89999999999998" height="11.699999999999989" fill="#c6c2c2" stroke="#1e1e1e" stroke-width="1.3"/>
<text x="403.55" y="383.95000000000005" font-size="7.3" text-anchor="middle" fill="#1a1a1a" stroke="#1a1a1a" stroke-width="0.03" textLength="11.36" lengthAdjust="spacingAndGlyphs">il10</text>
<rect x="43.5" y="387.3" width="100.0" height="114.80000000000001" fill="none" stroke="#1e1e1e" stroke-width="1.3"/>
<rect x="146.8" y="387.3" width="100.0" height="114.80000000000001" fill="none" stroke="#1e1e1e" stroke-width="1.3"/>
<rect x="250.4" y="387.3" width="100.1" height="114.80000000000001" fill="none" stroke="#1e1e1e" stroke-width="1.3"/>
<rect x="353.6" y="387.3" width="99.89999999999998" height="114.80000000000001" fill="none" stroke="#1e1e1e" stroke-width="1.3"/>
<rect x="453.5" y="387.3" width="12" height="114.80000000000001" fill="#c6c2c2" stroke="#1e1e1e" stroke-width="1.3"/>
<text x="457.0" y="444.70000000000005" font-size="7.3" text-anchor="middle" fill="#1a1a1a" stroke="#1a1a1a" stroke-width="0.03" textLength="19.8" lengthAdjust="spacingAndGlyphs" transform="rotate(90 457.0 444.70000000000005)">Tumor</text>
<rect x="43.5" y="505.4" width="100.0" height="62.0" fill="none" stroke="#1e1e1e" stroke-width="1.3"/>
<rect x="146.8" y="505.4" width="100.0" height="62.0" fill="none" stroke="#1e1e1e" stroke-width="1.3"/>
<rect x="250.4" y="505.4" width="100.1" height="62.0" fill="none" stroke="#1e1e1e" stroke-width="1.3"/>
<rect x="353.6" y="505.4" width="99.89999999999998" height="62.0" fill="none" stroke="#1e1e1e" stroke-width="1.3"/>
<rect x="453.5" y="505.4" width="12" height="62.0" fill="#c6c2c2" stroke="#1e1e1e" stroke-width="1.3"/>
<text x="457.0" y="536.4" font-size="7.3" text-anchor="middle" fill="#1a1a1a" stroke="#1a1a1a" stroke-width="0.03" textLength="23.8" lengthAdjust="spacingAndGlyphs" transform="rotate(90 457.0 536.4)">TIL CD4</text>
<rect x="43.5" y="571.3" width="100.0" height="111.0" fill="none" stroke="#1e1e1e" stroke-width="1.3"/>
<rect x="146.8" y="571.3" width="100.0" height="111.0" fill="none" stroke="#1e1e1e" stroke-width="1.3"/>
<rect x="250.4" y="571.3" width="100.1" height="111.0" fill="none" stroke="#1e1e1e" stroke-width="1.3"/>
<rect x="353.6" y="571.3" width="99.89999999999998" height="111.0" fill="none" stroke="#1e1e1e" stroke-width="1.3"/>
<rect x="453.5" y="571.3" width="12" height="111.0" fill="#c6c2c2" stroke="#1e1e1e" stroke-width="1.3"/>
<text x="457.0" y="626.8" font-size="7.3" text-anchor="middle" fill="#1a1a1a" stroke="#1a1a1a" stroke-width="0.03" textLength="23.5" lengthAdjust="spacingAndGlyphs" transform="rotate(90 457.0 626.8)">TIL CD8</text>
<text x="94" y="396.2" font-size="7.67" text-anchor="middle" fill="#1a1a1a" stroke="#1a1a1a" stroke-width="0.03" textLength="25.26" lengthAdjust="spacingAndGlyphs">p = 0.64</text>
<text x="196.5" y="396.2" font-size="7.67" text-anchor="middle" fill="#1a1a1a" stroke="#1a1a1a" stroke-width="0.03" textLength="25.26" lengthAdjust="spacingAndGlyphs">p = 0.03</text>
<text x="299.5" y="396.2" font-size="7.67" text-anchor="middle" fill="#1a1a1a" stroke="#1a1a1a" stroke-width="0.03" textLength="25.26" lengthAdjust="spacingAndGlyphs">p = 0.51</text>
<text x="403.2" y="396.2" font-size="7.67" text-anchor="middle" fill="#1a1a1a" stroke="#1a1a1a" stroke-width="0.03" textLength="25.26" lengthAdjust="spacingAndGlyphs">p = 0.16</text>
<text x="92.5" y="513" font-size="7.67" text-anchor="middle" fill="#1a1a1a" stroke="#1a1a1a" stroke-width="0.03" textLength="21.4" lengthAdjust="spacingAndGlyphs">p = 0.4</text>
<text x="206.5" y="513" font-size="7.67" text-anchor="middle" fill="#1a1a1a" stroke="#1a1a1a" stroke-width="0.03" textLength="25.26" lengthAdjust="spacingAndGlyphs">p = 0.03</text>
<text x="300" y="513" font-size="7.67" text-anchor="middle" fill="#1a1a1a" stroke="#1a1a1a" stroke-width="0.03" textLength="25.26" lengthAdjust="spacingAndGlyphs">p = 0.51</text>
<text x="403.2" y="513" font-size="7.67" text-anchor="middle" fill="#1a1a1a" stroke="#1a1a1a" stroke-width="0.03" textLength="29.11" lengthAdjust="spacingAndGlyphs">p = 0.047</text>
<text x="93.3" y="579.8" font-size="7.67" text-anchor="middle" fill="#1a1a1a" stroke="#1a1a1a" stroke-width="0.03" textLength="25.26" lengthAdjust="spacingAndGlyphs">p = 0.29</text>
<text x="197.2" y="579.8" font-size="7.67" text-anchor="middle" fill="#1a1a1a" stroke="#1a1a1a" stroke-width="0.03" textLength="29.11" lengthAdjust="spacingAndGlyphs">p = 0.096</text>
<text x="300.4" y="579.8" font-size="7.67" text-anchor="middle" fill="#1a1a1a" stroke="#1a1a1a" stroke-width="0.03" textLength="25.26" lengthAdjust="spacingAndGlyphs">p = 0.32</text>
<text x="403.2" y="579.8" font-size="7.67" text-anchor="middle" fill="#1a1a1a" stroke="#1a1a1a" stroke-width="0.03" textLength="25.26" lengthAdjust="spacingAndGlyphs">p = 0.19</text>
<text x="70.7" y="500.2" font-size="7.67" text-anchor="middle" fill="#1a1a1a" stroke="#1a1a1a" stroke-width="0.03" textLength="12.38" lengthAdjust="spacingAndGlyphs">n=7</text>
<text x="115.9" y="500.2" font-size="7.67" text-anchor="middle" fill="#1a1a1a" stroke="#1a1a1a" stroke-width="0.03" textLength="12.38" lengthAdjust="spacingAndGlyphs">n=4</text>
<text x="174.0" y="500.2" font-size="7.67" text-anchor="middle" fill="#1a1a1a" stroke="#1a1a1a" stroke-width="0.03" textLength="12.38" lengthAdjust="spacingAndGlyphs">n=7</text>
<text x="219.20000000000002" y="500.2" font-size="7.67" text-anchor="middle" fill="#1a1a1a" stroke="#1a1a1a" stroke-width="0.03" textLength="12.38" lengthAdjust="spacingAndGlyphs">n=4</text>
<text x="277.6" y="500.2" font-size="7.67" text-anchor="middle" fill="#1a1a1a" stroke="#1a1a1a" stroke-width="0.03" textLength="12.38" lengthAdjust="spacingAndGlyphs">n=7</text>
<text x="322.8" y="500.2" font-size="7.67" text-anchor="middle" fill="#1a1a1a" stroke="#1a1a1a" stroke-width="0.03" textLength="12.38" lengthAdjust="spacingAndGlyphs">n=4</text>
<text x="380.8" y="500.2" font-size="7.67" text-anchor="middle" fill="#1a1a1a" stroke="#1a1a1a" stroke-width="0.03" textLength="12.38" lengthAdjust="spacingAndGlyphs">n=7</text>
<text x="426.0" y="500.2" font-size="7.67" text-anchor="middle" fill="#1a1a1a" stroke="#1a1a1a" stroke-width="0.03" textLength="12.38" lengthAdjust="spacingAndGlyphs">n=4</text>
<text x="70.7" y="565.4" font-size="7.67" text-anchor="middle" fill="#1a1a1a" stroke="#1a1a1a" stroke-width="0.03" textLength="12.38" lengthAdjust="spacingAndGlyphs">n=7</text>
<text x="115.9" y="565.4" font-size="7.67" text-anchor="middle" fill="#1a1a1a" stroke="#1a1a1a" stroke-width="0.03" textLength="12.38" lengthAdjust="spacingAndGlyphs">n=4</text>
<text x="174.0" y="565.4" font-size="7.67" text-anchor="middle" fill="#1a1a1a" stroke="#1a1a1a" stroke-width="0.03" textLength="12.38" lengthAdjust="spacingAndGlyphs">n=7</text>
<text x="219.20000000000002" y="565.4" font-size="7.67" text-anchor="middle" fill="#1a1a1a" stroke="#1a1a1a" stroke-width="0.03" textLength="12.38" lengthAdjust="spacingAndGlyphs">n=4</text>
<text x="277.6" y="565.4" font-size="7.67" text-anchor="middle" fill="#1a1a1a" stroke="#1a1a1a" stroke-width="0.03" textLength="12.38" lengthAdjust="spacingAndGlyphs">n=7</text>
<text x="322.8" y="565.4" font-size="7.67" text-anchor="middle" fill="#1a1a1a" stroke="#1a1a1a" stroke-width="0.03" textLength="12.38" lengthAdjust="spacingAndGlyphs">n=4</text>
<text x="380.8" y="565.4" font-size="7.67" text-anchor="middle" fill="#1a1a1a" stroke="#1a1a1a" stroke-width="0.03" textLength="12.38" lengthAdjust="spacingAndGlyphs">n=7</text>
<text x="426.0" y="565.4" font-size="7.67" text-anchor="middle" fill="#1a1a1a" stroke="#1a1a1a" stroke-width="0.03" textLength="12.38" lengthAdjust="spacingAndGlyphs">n=4</text>
<text x="70.7" y="680" font-size="7.67" text-anchor="middle" fill="#1a1a1a" stroke="#1a1a1a" stroke-width="0.03" textLength="16.44" lengthAdjust="spacingAndGlyphs">n=12</text>
<text x="115.9" y="680" font-size="7.67" text-anchor="middle" fill="#1a1a1a" stroke="#1a1a1a" stroke-width="0.03" textLength="12.38" lengthAdjust="spacingAndGlyphs">n=7</text>
<text x="174.0" y="680" font-size="7.67" text-anchor="middle" fill="#1a1a1a" stroke="#1a1a1a" stroke-width="0.03" textLength="16.44" lengthAdjust="spacingAndGlyphs">n=13</text>
<text x="219.20000000000002" y="680" font-size="7.67" text-anchor="middle" fill="#1a1a1a" stroke="#1a1a1a" stroke-width="0.03" textLength="12.38" lengthAdjust="spacingAndGlyphs">n=7</text>
<text x="277.6" y="680" font-size="7.67" text-anchor="middle" fill="#1a1a1a" stroke="#1a1a1a" stroke-width="0.03" textLength="16.44" lengthAdjust="spacingAndGlyphs">n=13</text>
<text x="322.8" y="680" font-size="7.67" text-anchor="middle" fill="#1a1a1a" stroke="#1a1a1a" stroke-width="0.03" textLength="12.38" lengthAdjust="spacingAndGlyphs">n=7</text>
<text x="380.8" y="680" font-size="7.67" text-anchor="middle" fill="#1a1a1a" stroke="#1a1a1a" stroke-width="0.03" textLength="16.44" lengthAdjust="spacingAndGlyphs">n=12</text>
<text x="426.0" y="680" font-size="7.67" text-anchor="middle" fill="#1a1a1a" stroke="#1a1a1a" stroke-width="0.03" textLength="12.38" lengthAdjust="spacingAndGlyphs">n=7</text>
<line x1="70.7" y1="682" x2="70.7" y2="685" stroke="#1e1e1e" stroke-width="1.15"/>
<text x="70.7" y="695" font-size="8.39" text-anchor="middle" fill="#1a1a1a" stroke="#1a1a1a" stroke-width="0.03" textLength="16.63" lengthAdjust="spacingAndGlyphs">Early</text>
<line x1="115.9" y1="682" x2="115.9" y2="685" stroke="#1e1e1e" stroke-width="1.15"/>
<text x="115.9" y="695" font-size="8.39" text-anchor="middle" fill="#1a1a1a" stroke="#1a1a1a" stroke-width="0.03" textLength="14.21" lengthAdjust="spacingAndGlyphs">Late</text>
<line x1="174.0" y1="682" x2="174.0" y2="685" stroke="#1e1e1e" stroke-width="1.15"/>
<text x="174.0" y="695" font-size="8.39" text-anchor="middle" fill="#1a1a1a" stroke="#1a1a1a" stroke-width="0.03" textLength="16.63" lengthAdjust="spacingAndGlyphs">Early</text>
<line x1="219.20000000000002" y1="682" x2="219.20000000000002" y2="685" stroke="#1e1e1e" stroke-width="1.15"/>
<text x="219.20000000000002" y="695" font-size="8.39" text-anchor="middle" fill="#1a1a1a" stroke="#1a1a1a" stroke-width="0.03" textLength="14.21" lengthAdjust="spacingAndGlyphs">Late</text>
<line x1="277.6" y1="682" x2="277.6" y2="685" stroke="#1e1e1e" stroke-width="1.15"/>
<text x="277.6" y="695" font-size="8.39" text-anchor="middle" fill="#1a1a1a" stroke="#1a1a1a" stroke-width="0.03" textLength="16.63" lengthAdjust="spacingAndGlyphs">Early</text>
<line x1="322.8" y1="682" x2="322.8" y2="685" stroke="#1e1e1e" stroke-width="1.15"/>
<text x="322.8" y="695" font-size="8.39" text-anchor="middle" fill="#1a1a1a" stroke="#1a1a1a" stroke-width="0.03" textLength="14.21" lengthAdjust="spacingAndGlyphs">Late</text>
<line x1="380.8" y1="682" x2="380.8" y2="685" stroke="#1e1e1e" stroke-width="1.15"/>
<text x="380.8" y="695" font-size="8.39" text-anchor="middle" fill="#1a1a1a" stroke="#1a1a1a" stroke-width="0.03" textLength="16.63" lengthAdjust="spacingAndGlyphs">Early</text>
<line x1="426.0" y1="682" x2="426.0" y2="685" stroke="#1e1e1e" stroke-width="1.15"/>
<text x="426.0" y="695" font-size="8.39" text-anchor="middle" fill="#1a1a1a" stroke="#1a1a1a" stroke-width="0.03" textLength="14.21" lengthAdjust="spacingAndGlyphs">Late</text>
<text x="249.4" y="705.8" font-size="9.6" text-anchor="middle" fill="#1a1a1a" stroke="#1a1a1a" stroke-width="0.03" textLength="51" lengthAdjust="spacingAndGlyphs">Sample type</text>
<text x="16.0" y="537" font-size="9.6" text-anchor="middle" fill="#1a1a1a" stroke="#1a1a1a" stroke-width="0.03" textLength="116" lengthAdjust="spacingAndGlyphs" transform="rotate(-90 16.0 537)">Fraction cytokine producing</text>
<text x="471.5" y="520.7" font-size="7.65" text-anchor="start" fill="#1a1a1a" stroke="#1a1a1a" stroke-width="0.03" textLength="34.5" lengthAdjust="spacingAndGlyphs">Population</text>
<rect x="471" y="524.4" width="10" height="9.2" fill="#d8898b" stroke="#b07070" stroke-width="0.5"/>
<rect x="473" y="526.1999999999999" width="6" height="5.6" fill="#b8545c" stroke="#333" stroke-width="0.4"/>
<line x1="471" y1="529.0" x2="481" y2="529.0" stroke="#222" stroke-width="1.0"/>
<text x="484.3" y="531.8" font-size="7.88" text-anchor="start" fill="#1a1a1a" stroke="#1a1a1a" stroke-width="0.03" textLength="19.7" lengthAdjust="spacingAndGlyphs">Tumor</text>
<rect x="471" y="535.6999999999999" width="10" height="9.2" fill="#6677a0" stroke="#8a8a9a" stroke-width="0.5"/>
<rect x="473" y="537.4999999999999" width="6" height="5.6" fill="#5a6d99" stroke="#333" stroke-width="0.4"/>
<line x1="471" y1="540.3" x2="481" y2="540.3" stroke="#222" stroke-width="1.0"/>
<text x="484.3" y="543.0999999999999" font-size="7.88" text-anchor="start" fill="#1a1a1a" stroke="#1a1a1a" stroke-width="0.03" textLength="23.5" lengthAdjust="spacingAndGlyphs">TIL CD4</text>
<rect x="471" y="547.0" width="10" height="9.2" fill="#6677a0" stroke="#8a8a9a" stroke-width="0.5"/>
<rect x="473" y="548.8" width="6" height="5.6" fill="#5a6d99" stroke="#333" stroke-width="0.4"/>
<line x1="471" y1="551.6" x2="481" y2="551.6" stroke="#222" stroke-width="1.0"/>
<text x="484.3" y="554.4" font-size="7.88" text-anchor="start" fill="#1a1a1a" stroke="#1a1a1a" stroke-width="0.03" textLength="23.5" lengthAdjust="spacingAndGlyphs">TIL CD8</text>
<rect x="0.5" y="0.5" width="519" height="714" fill="none" stroke="#000" stroke-width="1.2"/>
</svg></body></html>
